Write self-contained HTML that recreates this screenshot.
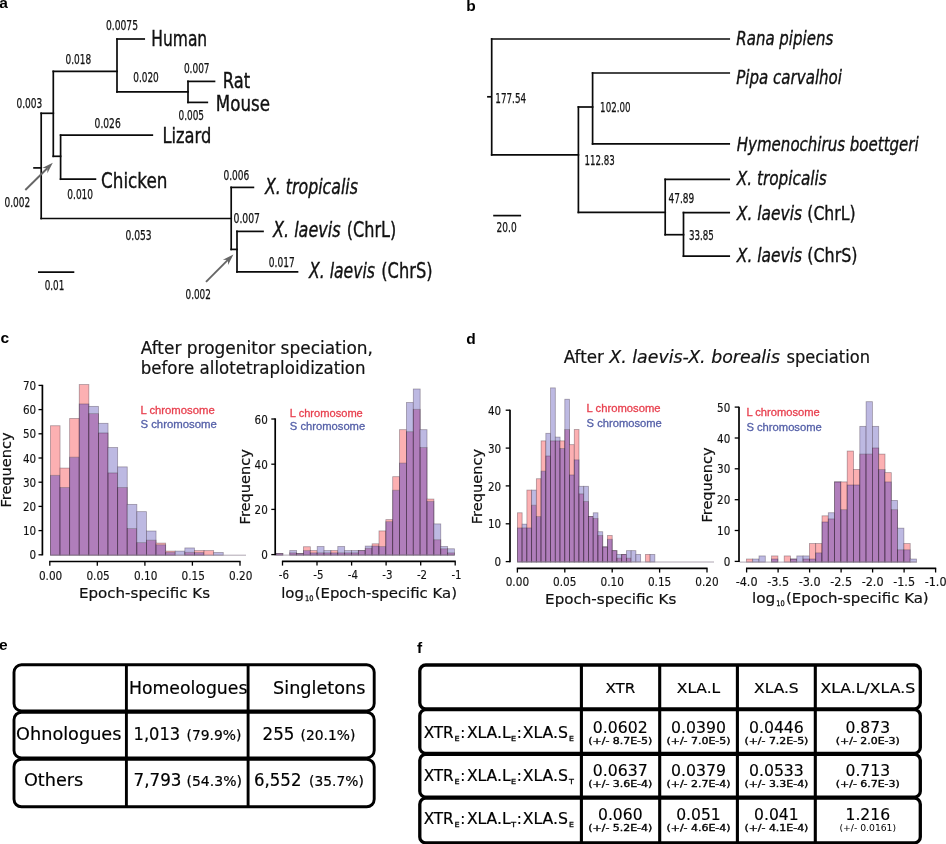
<!DOCTYPE html>
<html><head><meta charset="utf-8"><title>Figure</title>
<style>
html,body{margin:0;padding:0;background:#fff;}
body{width:946px;height:844px;overflow:hidden;}
svg{display:block;}
text{white-space:pre;}
</style></head><body>
<svg width="946" height="844" viewBox="0 0 946 844">
<rect width="946" height="844" fill="#fff"/>
<text x="-0.8" y="8.0" font-size="15.5" font-family='"Liberation Sans","DejaVu Sans",sans-serif' fill="#000" font-weight="bold">a</text>
<text x="466.3" y="11.4" font-size="15.5" font-family='"Liberation Sans","DejaVu Sans",sans-serif' fill="#000" font-weight="bold">b</text>
<text x="0.6" y="343.0" font-size="15.5" font-family='"Liberation Sans","DejaVu Sans",sans-serif' fill="#000" font-weight="bold">c</text>
<text x="466.3" y="344.0" font-size="15.5" font-family='"Liberation Sans","DejaVu Sans",sans-serif' fill="#000" font-weight="bold">d</text>
<text x="-1.0" y="649.6" font-size="15.5" font-family='"Liberation Sans","DejaVu Sans",sans-serif' fill="#000" font-weight="bold">e</text>
<text x="417.0" y="652.5" font-size="15.5" font-family='"Liberation Sans","DejaVu Sans",sans-serif' fill="#000" font-weight="bold">f</text>
<g id="treeA" transform="translate(0,0.4)">
<line x1="41.2" y1="112.9" x2="41.2" y2="218.1" stroke="#0a0a0a" stroke-width="1.7" stroke-linecap="square"/>
<line x1="33.2" y1="167.5" x2="41.2" y2="167.5" stroke="#0a0a0a" stroke-width="1.7" stroke-linecap="butt"/>
<line x1="41.2" y1="112.9" x2="53.3" y2="112.9" stroke="#0a0a0a" stroke-width="1.7" stroke-linecap="square"/>
<line x1="53.3" y1="71.0" x2="53.3" y2="155.9" stroke="#0a0a0a" stroke-width="1.7" stroke-linecap="square"/>
<line x1="53.3" y1="71.0" x2="117.0" y2="71.0" stroke="#0a0a0a" stroke-width="1.7" stroke-linecap="square"/>
<line x1="117.0" y1="38.6" x2="117.0" y2="91.4" stroke="#0a0a0a" stroke-width="1.7" stroke-linecap="square"/>
<line x1="117.0" y1="38.6" x2="144.2" y2="38.6" stroke="#0a0a0a" stroke-width="1.7" stroke-linecap="square"/>
<line x1="117.0" y1="91.4" x2="188.0" y2="91.4" stroke="#0a0a0a" stroke-width="1.7" stroke-linecap="square"/>
<line x1="188.0" y1="81.0" x2="188.0" y2="102.0" stroke="#0a0a0a" stroke-width="1.7" stroke-linecap="square"/>
<line x1="188.0" y1="81.0" x2="214.5" y2="81.0" stroke="#0a0a0a" stroke-width="1.7" stroke-linecap="square"/>
<line x1="188.0" y1="102.0" x2="207.3" y2="102.0" stroke="#0a0a0a" stroke-width="1.7" stroke-linecap="square"/>
<line x1="53.3" y1="155.9" x2="60.6" y2="155.9" stroke="#0a0a0a" stroke-width="1.7" stroke-linecap="square"/>
<line x1="60.6" y1="134.8" x2="60.6" y2="178.8" stroke="#0a0a0a" stroke-width="1.7" stroke-linecap="square"/>
<line x1="60.6" y1="134.8" x2="152.3" y2="134.8" stroke="#0a0a0a" stroke-width="1.7" stroke-linecap="square"/>
<line x1="60.6" y1="178.8" x2="95.4" y2="178.8" stroke="#0a0a0a" stroke-width="1.7" stroke-linecap="square"/>
<line x1="41.2" y1="218.1" x2="231.2" y2="218.1" stroke="#0a0a0a" stroke-width="1.7" stroke-linecap="square"/>
<line x1="231.2" y1="187.0" x2="231.2" y2="249.0" stroke="#0a0a0a" stroke-width="1.7" stroke-linecap="square"/>
<line x1="231.2" y1="187.0" x2="253.4" y2="187.0" stroke="#0a0a0a" stroke-width="1.7" stroke-linecap="square"/>
<line x1="231.2" y1="249.0" x2="237.0" y2="249.0" stroke="#0a0a0a" stroke-width="1.7" stroke-linecap="square"/>
<line x1="237.0" y1="231.0" x2="237.0" y2="271.5" stroke="#0a0a0a" stroke-width="1.7" stroke-linecap="square"/>
<line x1="237.0" y1="231.0" x2="263.0" y2="231.0" stroke="#0a0a0a" stroke-width="1.7" stroke-linecap="square"/>
<line x1="237.0" y1="271.5" x2="297.5" y2="271.5" stroke="#0a0a0a" stroke-width="1.7" stroke-linecap="square"/>
<line x1="38.0" y1="271.8" x2="74.3" y2="271.8" stroke="#0a0a0a" stroke-width="1.7" stroke-linecap="butt"/>
<text x="106.0" y="29.9" font-size="13.2" font-family='"DejaVu Sans Condensed","DejaVu Sans","Liberation Sans",sans-serif' fill="#111" textLength="32.0" lengthAdjust="spacingAndGlyphs" stroke="#111" stroke-width="0.25">0.0075</text>
<text x="65.5" y="63.4" font-size="13.2" font-family='"DejaVu Sans Condensed","DejaVu Sans","Liberation Sans",sans-serif' fill="#111" textLength="25.6" lengthAdjust="spacingAndGlyphs" stroke="#111" stroke-width="0.25">0.018</text>
<text x="133.2" y="81.7" font-size="13.2" font-family='"DejaVu Sans Condensed","DejaVu Sans","Liberation Sans",sans-serif' fill="#111" textLength="25.6" lengthAdjust="spacingAndGlyphs" stroke="#111" stroke-width="0.25">0.020</text>
<text x="183.9" y="73.0" font-size="13.2" font-family='"DejaVu Sans Condensed","DejaVu Sans","Liberation Sans",sans-serif' fill="#111" textLength="25.7" lengthAdjust="spacingAndGlyphs" stroke="#111" stroke-width="0.25">0.007</text>
<text x="178.5" y="119.7" font-size="13.2" font-family='"DejaVu Sans Condensed","DejaVu Sans","Liberation Sans",sans-serif' fill="#111" textLength="25.5" lengthAdjust="spacingAndGlyphs" stroke="#111" stroke-width="0.25">0.005</text>
<text x="16.5" y="107.9" font-size="13.2" font-family='"DejaVu Sans Condensed","DejaVu Sans","Liberation Sans",sans-serif' fill="#111" textLength="25.8" lengthAdjust="spacingAndGlyphs" stroke="#111" stroke-width="0.25">0.003</text>
<text x="94.6" y="127.7" font-size="13.2" font-family='"DejaVu Sans Condensed","DejaVu Sans","Liberation Sans",sans-serif' fill="#111" textLength="26.1" lengthAdjust="spacingAndGlyphs" stroke="#111" stroke-width="0.25">0.026</text>
<text x="67.3" y="199.1" font-size="13.2" font-family='"DejaVu Sans Condensed","DejaVu Sans","Liberation Sans",sans-serif' fill="#111" textLength="25.8" lengthAdjust="spacingAndGlyphs" stroke="#111" stroke-width="0.25">0.010</text>
<text x="4.5" y="206.7" font-size="13.2" font-family='"DejaVu Sans Condensed","DejaVu Sans","Liberation Sans",sans-serif' fill="#111" textLength="25.7" lengthAdjust="spacingAndGlyphs" stroke="#111" stroke-width="0.25">0.002</text>
<text x="125.5" y="239.3" font-size="13.2" font-family='"DejaVu Sans Condensed","DejaVu Sans","Liberation Sans",sans-serif' fill="#111" textLength="26.2" lengthAdjust="spacingAndGlyphs" stroke="#111" stroke-width="0.25">0.053</text>
<text x="44.7" y="290.0" font-size="13.2" font-family='"DejaVu Sans Condensed","DejaVu Sans","Liberation Sans",sans-serif' fill="#111" textLength="19.6" lengthAdjust="spacingAndGlyphs" stroke="#111" stroke-width="0.25">0.01</text>
<text x="185.5" y="298.4" font-size="13.2" font-family='"DejaVu Sans Condensed","DejaVu Sans","Liberation Sans",sans-serif' fill="#111" textLength="25.4" lengthAdjust="spacingAndGlyphs" stroke="#111" stroke-width="0.25">0.002</text>
<text x="223.5" y="179.7" font-size="13.2" font-family='"DejaVu Sans Condensed","DejaVu Sans","Liberation Sans",sans-serif' fill="#111" textLength="25.8" lengthAdjust="spacingAndGlyphs" stroke="#111" stroke-width="0.25">0.006</text>
<text x="233.5" y="223.0" font-size="13.2" font-family='"DejaVu Sans Condensed","DejaVu Sans","Liberation Sans",sans-serif' fill="#111" textLength="26.5" lengthAdjust="spacingAndGlyphs" stroke="#111" stroke-width="0.25">0.007</text>
<text x="268.8" y="266.3" font-size="13.2" font-family='"DejaVu Sans Condensed","DejaVu Sans","Liberation Sans",sans-serif' fill="#111" textLength="25.9" lengthAdjust="spacingAndGlyphs" stroke="#111" stroke-width="0.25">0.017</text>
<text x="151.3" y="45.5" font-size="20.4" font-family='"DejaVu Sans Condensed","DejaVu Sans","Liberation Sans",sans-serif' fill="#111" textLength="55.9" lengthAdjust="spacingAndGlyphs" stroke="#111" stroke-width="0.35">Human</text>
<text x="222.8" y="87.5" font-size="20.4" font-family='"DejaVu Sans Condensed","DejaVu Sans","Liberation Sans",sans-serif' fill="#111" textLength="27.2" lengthAdjust="spacingAndGlyphs" stroke="#111" stroke-width="0.35">Rat</text>
<text x="215.8" y="110.4" font-size="20.4" font-family='"DejaVu Sans Condensed","DejaVu Sans","Liberation Sans",sans-serif' fill="#111" textLength="54.2" lengthAdjust="spacingAndGlyphs" stroke="#111" stroke-width="0.35">Mouse</text>
<text x="162.4" y="142.6" font-size="20.4" font-family='"DejaVu Sans Condensed","DejaVu Sans","Liberation Sans",sans-serif' fill="#111" textLength="48.9" lengthAdjust="spacingAndGlyphs" stroke="#111" stroke-width="0.35">Lizard</text>
<text x="101.0" y="187.4" font-size="20.4" font-family='"DejaVu Sans Condensed","DejaVu Sans","Liberation Sans",sans-serif' fill="#111" textLength="66.4" lengthAdjust="spacingAndGlyphs" stroke="#111" stroke-width="0.35">Chicken</text>
<text x="265.0" y="193.9" font-size="20.4" font-family='"DejaVu Sans Condensed","DejaVu Sans","Liberation Sans",sans-serif' fill="#111" textLength="93.0" lengthAdjust="spacingAndGlyphs" font-style="italic" stroke="#111" stroke-width="0.35">X. tropicalis</text>
<text x="273.0" y="236.6" font-size="20.4" font-family='"DejaVu Sans Condensed","DejaVu Sans","Liberation Sans",sans-serif' fill="#111" textLength="67.5" lengthAdjust="spacingAndGlyphs" font-style="italic" stroke="#111" stroke-width="0.35">X. laevis</text>
<text x="346.8" y="236.6" font-size="20.4" font-family='"DejaVu Sans Condensed","DejaVu Sans","Liberation Sans",sans-serif' fill="#111" textLength="49.5" lengthAdjust="spacingAndGlyphs" stroke="#111" stroke-width="0.35">(ChrL)</text>
<text x="309.0" y="277.6" font-size="20.4" font-family='"DejaVu Sans Condensed","DejaVu Sans","Liberation Sans",sans-serif' fill="#111" textLength="66.0" lengthAdjust="spacingAndGlyphs" font-style="italic" stroke="#111" stroke-width="0.35">X. laevis</text>
<text x="381.3" y="277.6" font-size="20.4" font-family='"DejaVu Sans Condensed","DejaVu Sans","Liberation Sans",sans-serif' fill="#111" textLength="51.2" lengthAdjust="spacingAndGlyphs" stroke="#111" stroke-width="0.35">(ChrS)</text>
<line x1="25.3" y1="189.6" x2="47.3" y2="167.9" stroke="#666" stroke-width="1.9"/>
<polygon points="52.8,162.4 47.4,172.9 47.3,167.9 42.2,167.6" fill="#666"/>
<line x1="206.0" y1="281.4" x2="227.9" y2="259.5" stroke="#666" stroke-width="1.9"/>
<polygon points="233.4,254.0 228.1,264.5 227.9,259.5 222.9,259.3" fill="#666"/>
</g>
<g id="treeB">
<g transform="translate(0,0.4)">
<line x1="491.7" y1="38.6" x2="491.7" y2="154.5" stroke="#0a0a0a" stroke-width="1.7" stroke-linecap="square"/>
<line x1="487.1" y1="96.4" x2="491.7" y2="96.4" stroke="#0a0a0a" stroke-width="1.7" stroke-linecap="butt"/>
<line x1="491.7" y1="38.6" x2="729.2" y2="38.6" stroke="#0a0a0a" stroke-width="1.7" stroke-linecap="square"/>
<line x1="491.7" y1="154.5" x2="578.4" y2="154.5" stroke="#0a0a0a" stroke-width="1.7" stroke-linecap="square"/>
<line x1="578.4" y1="106.6" x2="578.4" y2="212.0" stroke="#0a0a0a" stroke-width="1.7" stroke-linecap="square"/>
<line x1="578.4" y1="106.6" x2="592.6" y2="106.6" stroke="#0a0a0a" stroke-width="1.7" stroke-linecap="square"/>
<line x1="592.6" y1="72.6" x2="592.6" y2="143.5" stroke="#0a0a0a" stroke-width="1.7" stroke-linecap="square"/>
<line x1="592.6" y1="72.6" x2="729.2" y2="72.6" stroke="#0a0a0a" stroke-width="1.7" stroke-linecap="square"/>
<line x1="592.6" y1="143.5" x2="729.2" y2="143.5" stroke="#0a0a0a" stroke-width="1.7" stroke-linecap="square"/>
<line x1="578.4" y1="212.0" x2="665.2" y2="212.0" stroke="#0a0a0a" stroke-width="1.7" stroke-linecap="square"/>
<line x1="665.2" y1="179.0" x2="665.2" y2="234.3" stroke="#0a0a0a" stroke-width="1.7" stroke-linecap="square"/>
<line x1="665.2" y1="179.0" x2="729.2" y2="179.0" stroke="#0a0a0a" stroke-width="1.7" stroke-linecap="square"/>
<line x1="665.2" y1="234.3" x2="683.5" y2="234.3" stroke="#0a0a0a" stroke-width="1.7" stroke-linecap="square"/>
<line x1="683.5" y1="212.2" x2="683.5" y2="255.8" stroke="#0a0a0a" stroke-width="1.7" stroke-linecap="square"/>
<line x1="683.5" y1="212.2" x2="729.2" y2="212.2" stroke="#0a0a0a" stroke-width="1.7" stroke-linecap="square"/>
<line x1="683.5" y1="255.8" x2="729.2" y2="255.8" stroke="#0a0a0a" stroke-width="1.7" stroke-linecap="square"/>
<line x1="493.2" y1="215.2" x2="521.1" y2="215.2" stroke="#0a0a0a" stroke-width="1.7" stroke-linecap="butt"/>
</g>
<text x="495.3" y="103.2" font-size="14.3" font-family='"DejaVu Sans Condensed","DejaVu Sans","Liberation Sans",sans-serif' fill="#111" textLength="30.8" lengthAdjust="spacingAndGlyphs" stroke="#111" stroke-width="0.25">177.54</text>
<text x="600.1" y="112.0" font-size="14.3" font-family='"DejaVu Sans Condensed","DejaVu Sans","Liberation Sans",sans-serif' fill="#111" textLength="30.5" lengthAdjust="spacingAndGlyphs" stroke="#111" stroke-width="0.25">102.00</text>
<text x="584.4" y="164.9" font-size="14.3" font-family='"DejaVu Sans Condensed","DejaVu Sans","Liberation Sans",sans-serif' fill="#111" textLength="30.3" lengthAdjust="spacingAndGlyphs" stroke="#111" stroke-width="0.25">112.83</text>
<text x="668.6" y="203.3" font-size="14.3" font-family='"DejaVu Sans Condensed","DejaVu Sans","Liberation Sans",sans-serif' fill="#111" textLength="25.7" lengthAdjust="spacingAndGlyphs" stroke="#111" stroke-width="0.25">47.89</text>
<text x="688.9" y="239.5" font-size="14.3" font-family='"DejaVu Sans Condensed","DejaVu Sans","Liberation Sans",sans-serif' fill="#111" textLength="24.9" lengthAdjust="spacingAndGlyphs" stroke="#111" stroke-width="0.25">33.85</text>
<text x="496.6" y="232.4" font-size="14.3" font-family='"DejaVu Sans Condensed","DejaVu Sans","Liberation Sans",sans-serif' fill="#111" textLength="20.1" lengthAdjust="spacingAndGlyphs" stroke="#111" stroke-width="0.25">20.0</text>
<text x="736.3" y="45.0" font-size="19.5" font-family='"DejaVu Sans Condensed","DejaVu Sans","Liberation Sans",sans-serif' fill="#111" textLength="96.9" lengthAdjust="spacingAndGlyphs" font-style="italic" stroke="#111" stroke-width="0.35">Rana pipiens</text>
<text x="736.3" y="83.6" font-size="19.5" font-family='"DejaVu Sans Condensed","DejaVu Sans","Liberation Sans",sans-serif' fill="#111" textLength="105.7" lengthAdjust="spacingAndGlyphs" font-style="italic" stroke="#111" stroke-width="0.35">Pipa carvalhoi</text>
<text x="736.8" y="150.8" font-size="19.5" font-family='"DejaVu Sans Condensed","DejaVu Sans","Liberation Sans",sans-serif' fill="#111" textLength="181.9" lengthAdjust="spacingAndGlyphs" font-style="italic" stroke="#111" stroke-width="0.35">Hymenochirus boettgeri</text>
<text x="736.8" y="185.0" font-size="19.5" font-family='"DejaVu Sans Condensed","DejaVu Sans","Liberation Sans",sans-serif' fill="#111" textLength="90.0" lengthAdjust="spacingAndGlyphs" font-style="italic" stroke="#111" stroke-width="0.35">X. tropicalis</text>
<text x="736.8" y="220.3" font-size="19.5" font-family='"DejaVu Sans Condensed","DejaVu Sans","Liberation Sans",sans-serif' fill="#111" textLength="65.2" lengthAdjust="spacingAndGlyphs" font-style="italic" stroke="#111" stroke-width="0.35">X. laevis</text>
<text x="807.3" y="220.3" font-size="19.5" font-family='"DejaVu Sans Condensed","DejaVu Sans","Liberation Sans",sans-serif' fill="#111" textLength="48.2" lengthAdjust="spacingAndGlyphs" stroke="#111" stroke-width="0.35">(ChrL)</text>
<text x="736.8" y="262.1" font-size="19.5" font-family='"DejaVu Sans Condensed","DejaVu Sans","Liberation Sans",sans-serif' fill="#111" textLength="65.2" lengthAdjust="spacingAndGlyphs" font-style="italic" stroke="#111" stroke-width="0.35">X. laevis</text>
<text x="807.3" y="262.1" font-size="19.5" font-family='"DejaVu Sans Condensed","DejaVu Sans","Liberation Sans",sans-serif' fill="#111" textLength="50.2" lengthAdjust="spacingAndGlyphs" stroke="#111" stroke-width="0.35">(ChrS)</text>
</g>
<g>
<rect x="50.45" y="475.34" width="9.60" height="79.86" fill="#b07ebb"/>
<rect x="50.45" y="425.73" width="9.60" height="49.61" fill="#fcb0b2"/>
<rect x="50.45" y="425.73" width="9.60" height="129.47" fill="none" stroke="#201020" stroke-opacity="0.36" stroke-width="0.8"/>
<rect x="50.45" y="475.34" width="9.60" height="79.86" fill="none" stroke="#201020" stroke-opacity="0.36" stroke-width="0.8"/>
<rect x="60.05" y="487.44" width="9.60" height="67.76" fill="#b07ebb"/>
<rect x="60.05" y="468.08" width="9.60" height="19.36" fill="#fcb0b2"/>
<rect x="60.05" y="468.08" width="9.60" height="87.12" fill="none" stroke="#201020" stroke-opacity="0.36" stroke-width="0.8"/>
<rect x="60.05" y="487.44" width="9.60" height="67.76" fill="none" stroke="#201020" stroke-opacity="0.36" stroke-width="0.8"/>
<rect x="69.65" y="457.19" width="9.60" height="98.01" fill="#b07ebb"/>
<rect x="69.65" y="418.47" width="9.60" height="38.72" fill="#fcb0b2"/>
<rect x="69.65" y="418.47" width="9.60" height="136.73" fill="none" stroke="#201020" stroke-opacity="0.36" stroke-width="0.8"/>
<rect x="69.65" y="457.19" width="9.60" height="98.01" fill="none" stroke="#201020" stroke-opacity="0.36" stroke-width="0.8"/>
<rect x="79.25" y="403.95" width="9.60" height="151.25" fill="#b07ebb"/>
<rect x="79.25" y="384.59" width="9.60" height="19.36" fill="#fcb0b2"/>
<rect x="79.25" y="384.59" width="9.60" height="170.61" fill="none" stroke="#201020" stroke-opacity="0.36" stroke-width="0.8"/>
<rect x="79.25" y="403.95" width="9.60" height="151.25" fill="none" stroke="#201020" stroke-opacity="0.36" stroke-width="0.8"/>
<rect x="88.85" y="413.63" width="9.60" height="141.57" fill="#b07ebb"/>
<rect x="88.85" y="406.37" width="9.60" height="7.26" fill="#bdb9e2"/>
<rect x="88.85" y="413.63" width="9.60" height="141.57" fill="none" stroke="#201020" stroke-opacity="0.36" stroke-width="0.8"/>
<rect x="88.85" y="406.37" width="9.60" height="148.83" fill="none" stroke="#201020" stroke-opacity="0.36" stroke-width="0.8"/>
<rect x="98.45" y="432.99" width="9.60" height="122.21" fill="#b07ebb"/>
<rect x="98.45" y="423.31" width="9.60" height="9.68" fill="#bdb9e2"/>
<rect x="98.45" y="432.99" width="9.60" height="122.21" fill="none" stroke="#201020" stroke-opacity="0.36" stroke-width="0.8"/>
<rect x="98.45" y="423.31" width="9.60" height="131.89" fill="none" stroke="#201020" stroke-opacity="0.36" stroke-width="0.8"/>
<rect x="108.05" y="472.92" width="9.60" height="82.28" fill="#b07ebb"/>
<rect x="108.05" y="447.51" width="9.60" height="25.41" fill="#bdb9e2"/>
<rect x="108.05" y="472.92" width="9.60" height="82.28" fill="none" stroke="#201020" stroke-opacity="0.36" stroke-width="0.8"/>
<rect x="108.05" y="447.51" width="9.60" height="107.69" fill="none" stroke="#201020" stroke-opacity="0.36" stroke-width="0.8"/>
<rect x="117.65" y="487.44" width="9.60" height="67.76" fill="#b07ebb"/>
<rect x="117.65" y="466.87" width="9.60" height="20.57" fill="#bdb9e2"/>
<rect x="117.65" y="487.44" width="9.60" height="67.76" fill="none" stroke="#201020" stroke-opacity="0.36" stroke-width="0.8"/>
<rect x="117.65" y="466.87" width="9.60" height="88.33" fill="none" stroke="#201020" stroke-opacity="0.36" stroke-width="0.8"/>
<rect x="127.25" y="528.58" width="9.60" height="26.62" fill="#b07ebb"/>
<rect x="127.25" y="504.38" width="9.60" height="24.20" fill="#bdb9e2"/>
<rect x="127.25" y="528.58" width="9.60" height="26.62" fill="none" stroke="#201020" stroke-opacity="0.36" stroke-width="0.8"/>
<rect x="127.25" y="504.38" width="9.60" height="50.82" fill="none" stroke="#201020" stroke-opacity="0.36" stroke-width="0.8"/>
<rect x="136.85" y="542.62" width="9.60" height="12.58" fill="#b07ebb"/>
<rect x="136.85" y="511.64" width="9.60" height="30.98" fill="#bdb9e2"/>
<rect x="136.85" y="542.62" width="9.60" height="12.58" fill="none" stroke="#201020" stroke-opacity="0.36" stroke-width="0.8"/>
<rect x="136.85" y="511.64" width="9.60" height="43.56" fill="none" stroke="#201020" stroke-opacity="0.36" stroke-width="0.8"/>
<rect x="146.45" y="540.20" width="9.60" height="15.00" fill="#b07ebb"/>
<rect x="146.45" y="531.00" width="9.60" height="9.20" fill="#bdb9e2"/>
<rect x="146.45" y="540.20" width="9.60" height="15.00" fill="none" stroke="#201020" stroke-opacity="0.36" stroke-width="0.8"/>
<rect x="146.45" y="531.00" width="9.60" height="24.20" fill="none" stroke="#201020" stroke-opacity="0.36" stroke-width="0.8"/>
<rect x="156.05" y="544.79" width="9.60" height="10.41" fill="#b07ebb"/>
<rect x="156.05" y="543.10" width="9.60" height="1.69" fill="#fcb0b2"/>
<rect x="156.05" y="543.10" width="9.60" height="12.10" fill="none" stroke="#201020" stroke-opacity="0.36" stroke-width="0.8"/>
<rect x="156.05" y="544.79" width="9.60" height="10.41" fill="none" stroke="#201020" stroke-opacity="0.36" stroke-width="0.8"/>
<rect x="165.65" y="552.30" width="9.60" height="2.90" fill="#b07ebb"/>
<rect x="165.65" y="551.09" width="9.60" height="1.21" fill="#fcb0b2"/>
<rect x="165.65" y="551.09" width="9.60" height="4.11" fill="none" stroke="#201020" stroke-opacity="0.36" stroke-width="0.8"/>
<rect x="165.65" y="552.30" width="9.60" height="2.90" fill="none" stroke="#201020" stroke-opacity="0.36" stroke-width="0.8"/>
<rect x="175.25" y="551.09" width="9.60" height="4.11" fill="#bdb9e2"/>
<rect x="175.25" y="551.09" width="9.60" height="4.11" fill="none" stroke="#201020" stroke-opacity="0.36" stroke-width="0.8"/>
<rect x="184.85" y="552.30" width="9.60" height="2.90" fill="#b07ebb"/>
<rect x="184.85" y="547.94" width="9.60" height="4.36" fill="#bdb9e2"/>
<rect x="184.85" y="552.30" width="9.60" height="2.90" fill="none" stroke="#201020" stroke-opacity="0.36" stroke-width="0.8"/>
<rect x="184.85" y="547.94" width="9.60" height="7.26" fill="none" stroke="#201020" stroke-opacity="0.36" stroke-width="0.8"/>
<rect x="194.45" y="552.54" width="9.60" height="2.66" fill="#b07ebb"/>
<rect x="194.45" y="550.60" width="9.60" height="1.94" fill="#fcb0b2"/>
<rect x="194.45" y="550.60" width="9.60" height="4.60" fill="none" stroke="#201020" stroke-opacity="0.36" stroke-width="0.8"/>
<rect x="194.45" y="552.54" width="9.60" height="2.66" fill="none" stroke="#201020" stroke-opacity="0.36" stroke-width="0.8"/>
<rect x="204.05" y="550.60" width="9.60" height="4.60" fill="#fcb0b2"/>
<rect x="204.05" y="550.60" width="9.60" height="4.60" fill="none" stroke="#201020" stroke-opacity="0.36" stroke-width="0.8"/>
<rect x="213.65" y="552.54" width="9.60" height="2.66" fill="#bdb9e2"/>
<rect x="213.65" y="552.54" width="9.60" height="2.66" fill="none" stroke="#201020" stroke-opacity="0.36" stroke-width="0.8"/>
<line x1="50.5" y1="555.2" x2="246.0" y2="555.2" stroke="#9a90a0" stroke-width="0.8"/>
</g>
<g>
<rect x="276.00" y="553.52" width="6.87" height="1.58" fill="#b07ebb"/>
<rect x="276.00" y="553.52" width="6.87" height="1.58" fill="none" stroke="#201020" stroke-opacity="0.36" stroke-width="0.8"/>
<rect x="276.00" y="553.52" width="6.87" height="1.58" fill="none" stroke="#201020" stroke-opacity="0.36" stroke-width="0.8"/>
<rect x="289.73" y="552.84" width="6.87" height="2.26" fill="#b07ebb"/>
<rect x="289.73" y="550.58" width="6.87" height="2.26" fill="#bdb9e2"/>
<rect x="289.73" y="552.84" width="6.87" height="2.26" fill="none" stroke="#201020" stroke-opacity="0.36" stroke-width="0.8"/>
<rect x="289.73" y="550.58" width="6.87" height="4.52" fill="none" stroke="#201020" stroke-opacity="0.36" stroke-width="0.8"/>
<rect x="296.60" y="553.52" width="6.87" height="1.58" fill="#b07ebb"/>
<rect x="296.60" y="553.52" width="6.87" height="1.58" fill="none" stroke="#201020" stroke-opacity="0.36" stroke-width="0.8"/>
<rect x="296.60" y="553.52" width="6.87" height="1.58" fill="none" stroke="#201020" stroke-opacity="0.36" stroke-width="0.8"/>
<rect x="303.46" y="550.58" width="6.87" height="4.52" fill="#b07ebb"/>
<rect x="303.46" y="546.74" width="6.87" height="3.84" fill="#fcb0b2"/>
<rect x="303.46" y="546.74" width="6.87" height="8.36" fill="none" stroke="#201020" stroke-opacity="0.36" stroke-width="0.8"/>
<rect x="303.46" y="550.58" width="6.87" height="4.52" fill="none" stroke="#201020" stroke-opacity="0.36" stroke-width="0.8"/>
<rect x="310.32" y="552.84" width="6.87" height="2.26" fill="#b07ebb"/>
<rect x="310.32" y="550.58" width="6.87" height="2.26" fill="#fcb0b2"/>
<rect x="310.32" y="550.58" width="6.87" height="4.52" fill="none" stroke="#201020" stroke-opacity="0.36" stroke-width="0.8"/>
<rect x="310.32" y="552.84" width="6.87" height="2.26" fill="none" stroke="#201020" stroke-opacity="0.36" stroke-width="0.8"/>
<rect x="317.19" y="552.84" width="6.87" height="2.26" fill="#b07ebb"/>
<rect x="317.19" y="546.51" width="6.87" height="6.33" fill="#bdb9e2"/>
<rect x="317.19" y="552.84" width="6.87" height="2.26" fill="none" stroke="#201020" stroke-opacity="0.36" stroke-width="0.8"/>
<rect x="317.19" y="546.51" width="6.87" height="8.59" fill="none" stroke="#201020" stroke-opacity="0.36" stroke-width="0.8"/>
<rect x="324.06" y="552.84" width="6.87" height="2.26" fill="#b07ebb"/>
<rect x="324.06" y="550.58" width="6.87" height="2.26" fill="#bdb9e2"/>
<rect x="324.06" y="552.84" width="6.87" height="2.26" fill="none" stroke="#201020" stroke-opacity="0.36" stroke-width="0.8"/>
<rect x="324.06" y="550.58" width="6.87" height="4.52" fill="none" stroke="#201020" stroke-opacity="0.36" stroke-width="0.8"/>
<rect x="330.92" y="552.84" width="6.87" height="2.26" fill="#b07ebb"/>
<rect x="330.92" y="550.58" width="6.87" height="2.26" fill="#fcb0b2"/>
<rect x="330.92" y="550.58" width="6.87" height="4.52" fill="none" stroke="#201020" stroke-opacity="0.36" stroke-width="0.8"/>
<rect x="330.92" y="552.84" width="6.87" height="2.26" fill="none" stroke="#201020" stroke-opacity="0.36" stroke-width="0.8"/>
<rect x="337.79" y="552.84" width="6.87" height="2.26" fill="#b07ebb"/>
<rect x="337.79" y="546.51" width="6.87" height="6.33" fill="#bdb9e2"/>
<rect x="337.79" y="552.84" width="6.87" height="2.26" fill="none" stroke="#201020" stroke-opacity="0.36" stroke-width="0.8"/>
<rect x="337.79" y="546.51" width="6.87" height="8.59" fill="none" stroke="#201020" stroke-opacity="0.36" stroke-width="0.8"/>
<rect x="344.65" y="552.84" width="6.87" height="2.26" fill="#b07ebb"/>
<rect x="344.65" y="550.58" width="6.87" height="2.26" fill="#bdb9e2"/>
<rect x="344.65" y="552.84" width="6.87" height="2.26" fill="none" stroke="#201020" stroke-opacity="0.36" stroke-width="0.8"/>
<rect x="344.65" y="550.58" width="6.87" height="4.52" fill="none" stroke="#201020" stroke-opacity="0.36" stroke-width="0.8"/>
<rect x="351.51" y="552.84" width="6.87" height="2.26" fill="#b07ebb"/>
<rect x="351.51" y="550.58" width="6.87" height="2.26" fill="#bdb9e2"/>
<rect x="351.51" y="552.84" width="6.87" height="2.26" fill="none" stroke="#201020" stroke-opacity="0.36" stroke-width="0.8"/>
<rect x="351.51" y="550.58" width="6.87" height="4.52" fill="none" stroke="#201020" stroke-opacity="0.36" stroke-width="0.8"/>
<rect x="358.38" y="550.58" width="6.87" height="4.52" fill="#b07ebb"/>
<rect x="358.38" y="550.58" width="6.87" height="4.52" fill="none" stroke="#201020" stroke-opacity="0.36" stroke-width="0.8"/>
<rect x="358.38" y="550.58" width="6.87" height="4.52" fill="none" stroke="#201020" stroke-opacity="0.36" stroke-width="0.8"/>
<rect x="365.25" y="548.32" width="6.87" height="6.78" fill="#b07ebb"/>
<rect x="365.25" y="546.06" width="6.87" height="2.26" fill="#bdb9e2"/>
<rect x="365.25" y="548.32" width="6.87" height="6.78" fill="none" stroke="#201020" stroke-opacity="0.36" stroke-width="0.8"/>
<rect x="365.25" y="546.06" width="6.87" height="9.04" fill="none" stroke="#201020" stroke-opacity="0.36" stroke-width="0.8"/>
<rect x="372.11" y="546.06" width="6.87" height="9.04" fill="#b07ebb"/>
<rect x="372.11" y="543.80" width="6.87" height="2.26" fill="#fcb0b2"/>
<rect x="372.11" y="543.80" width="6.87" height="11.30" fill="none" stroke="#201020" stroke-opacity="0.36" stroke-width="0.8"/>
<rect x="372.11" y="546.06" width="6.87" height="9.04" fill="none" stroke="#201020" stroke-opacity="0.36" stroke-width="0.8"/>
<rect x="378.98" y="546.51" width="6.87" height="8.59" fill="#b07ebb"/>
<rect x="378.98" y="530.92" width="6.87" height="15.59" fill="#fcb0b2"/>
<rect x="378.98" y="530.92" width="6.87" height="24.18" fill="none" stroke="#201020" stroke-opacity="0.36" stroke-width="0.8"/>
<rect x="378.98" y="546.51" width="6.87" height="8.59" fill="none" stroke="#201020" stroke-opacity="0.36" stroke-width="0.8"/>
<rect x="385.84" y="521.65" width="6.87" height="33.45" fill="#b07ebb"/>
<rect x="385.84" y="519.62" width="6.87" height="2.03" fill="#fcb0b2"/>
<rect x="385.84" y="519.62" width="6.87" height="35.48" fill="none" stroke="#201020" stroke-opacity="0.36" stroke-width="0.8"/>
<rect x="385.84" y="521.65" width="6.87" height="33.45" fill="none" stroke="#201020" stroke-opacity="0.36" stroke-width="0.8"/>
<rect x="392.70" y="490.24" width="6.87" height="64.86" fill="#b07ebb"/>
<rect x="392.70" y="476.68" width="6.87" height="13.56" fill="#fcb0b2"/>
<rect x="392.70" y="476.68" width="6.87" height="78.42" fill="none" stroke="#201020" stroke-opacity="0.36" stroke-width="0.8"/>
<rect x="392.70" y="490.24" width="6.87" height="64.86" fill="none" stroke="#201020" stroke-opacity="0.36" stroke-width="0.8"/>
<rect x="399.57" y="463.12" width="6.87" height="91.98" fill="#b07ebb"/>
<rect x="399.57" y="429.67" width="6.87" height="33.45" fill="#fcb0b2"/>
<rect x="399.57" y="429.67" width="6.87" height="125.43" fill="none" stroke="#201020" stroke-opacity="0.36" stroke-width="0.8"/>
<rect x="399.57" y="463.12" width="6.87" height="91.98" fill="none" stroke="#201020" stroke-opacity="0.36" stroke-width="0.8"/>
<rect x="406.44" y="431.70" width="6.87" height="123.40" fill="#b07ebb"/>
<rect x="406.44" y="402.55" width="6.87" height="29.15" fill="#bdb9e2"/>
<rect x="406.44" y="431.70" width="6.87" height="123.40" fill="none" stroke="#201020" stroke-opacity="0.36" stroke-width="0.8"/>
<rect x="406.44" y="402.55" width="6.87" height="152.55" fill="none" stroke="#201020" stroke-opacity="0.36" stroke-width="0.8"/>
<rect x="413.30" y="409.33" width="6.87" height="145.77" fill="#b07ebb"/>
<rect x="413.30" y="388.99" width="6.87" height="20.34" fill="#bdb9e2"/>
<rect x="413.30" y="409.33" width="6.87" height="145.77" fill="none" stroke="#201020" stroke-opacity="0.36" stroke-width="0.8"/>
<rect x="413.30" y="388.99" width="6.87" height="166.11" fill="none" stroke="#201020" stroke-opacity="0.36" stroke-width="0.8"/>
<rect x="420.16" y="447.52" width="6.87" height="107.58" fill="#b07ebb"/>
<rect x="420.16" y="429.67" width="6.87" height="17.85" fill="#bdb9e2"/>
<rect x="420.16" y="447.52" width="6.87" height="107.58" fill="none" stroke="#201020" stroke-opacity="0.36" stroke-width="0.8"/>
<rect x="420.16" y="429.67" width="6.87" height="125.43" fill="none" stroke="#201020" stroke-opacity="0.36" stroke-width="0.8"/>
<rect x="427.03" y="501.31" width="6.87" height="53.79" fill="#b07ebb"/>
<rect x="427.03" y="499.05" width="6.87" height="2.26" fill="#fcb0b2"/>
<rect x="427.03" y="499.05" width="6.87" height="56.05" fill="none" stroke="#201020" stroke-opacity="0.36" stroke-width="0.8"/>
<rect x="427.03" y="501.31" width="6.87" height="53.79" fill="none" stroke="#201020" stroke-opacity="0.36" stroke-width="0.8"/>
<rect x="433.89" y="539.73" width="6.87" height="15.37" fill="#b07ebb"/>
<rect x="433.89" y="523.91" width="6.87" height="15.82" fill="#bdb9e2"/>
<rect x="433.89" y="539.73" width="6.87" height="15.37" fill="none" stroke="#201020" stroke-opacity="0.36" stroke-width="0.8"/>
<rect x="433.89" y="523.91" width="6.87" height="31.19" fill="none" stroke="#201020" stroke-opacity="0.36" stroke-width="0.8"/>
<rect x="440.76" y="548.77" width="6.87" height="6.33" fill="#b07ebb"/>
<rect x="440.76" y="546.51" width="6.87" height="2.26" fill="#bdb9e2"/>
<rect x="440.76" y="548.77" width="6.87" height="6.33" fill="none" stroke="#201020" stroke-opacity="0.36" stroke-width="0.8"/>
<rect x="440.76" y="546.51" width="6.87" height="8.59" fill="none" stroke="#201020" stroke-opacity="0.36" stroke-width="0.8"/>
<rect x="447.62" y="552.84" width="6.87" height="2.26" fill="#b07ebb"/>
<rect x="447.62" y="548.77" width="6.87" height="4.07" fill="#bdb9e2"/>
<rect x="447.62" y="552.84" width="6.87" height="2.26" fill="none" stroke="#201020" stroke-opacity="0.36" stroke-width="0.8"/>
<rect x="447.62" y="548.77" width="6.87" height="6.33" fill="none" stroke="#201020" stroke-opacity="0.36" stroke-width="0.8"/>
<line x1="275.5" y1="555.1" x2="454.5" y2="555.1" stroke="#9a90a0" stroke-width="0.8"/>
</g>
<g>
<rect x="517.40" y="527.93" width="4.74" height="34.06" fill="#b07ebb"/>
<rect x="517.40" y="512.79" width="4.74" height="15.14" fill="#fcb0b2"/>
<rect x="517.40" y="512.79" width="4.74" height="49.20" fill="none" stroke="#201020" stroke-opacity="0.36" stroke-width="0.8"/>
<rect x="517.40" y="527.93" width="4.74" height="34.06" fill="none" stroke="#201020" stroke-opacity="0.36" stroke-width="0.8"/>
<rect x="522.14" y="527.93" width="4.74" height="34.06" fill="#b07ebb"/>
<rect x="522.14" y="524.15" width="4.74" height="3.79" fill="#bdb9e2"/>
<rect x="522.14" y="527.93" width="4.74" height="34.06" fill="none" stroke="#201020" stroke-opacity="0.36" stroke-width="0.8"/>
<rect x="522.14" y="524.15" width="4.74" height="37.85" fill="none" stroke="#201020" stroke-opacity="0.36" stroke-width="0.8"/>
<rect x="526.88" y="527.93" width="4.74" height="34.06" fill="#b07ebb"/>
<rect x="526.88" y="490.08" width="4.74" height="37.85" fill="#fcb0b2"/>
<rect x="526.88" y="490.08" width="4.74" height="71.92" fill="none" stroke="#201020" stroke-opacity="0.36" stroke-width="0.8"/>
<rect x="526.88" y="527.93" width="4.74" height="34.06" fill="none" stroke="#201020" stroke-opacity="0.36" stroke-width="0.8"/>
<rect x="531.62" y="505.23" width="4.74" height="56.78" fill="#b07ebb"/>
<rect x="531.62" y="490.08" width="4.74" height="15.14" fill="#bdb9e2"/>
<rect x="531.62" y="505.23" width="4.74" height="56.78" fill="none" stroke="#201020" stroke-opacity="0.36" stroke-width="0.8"/>
<rect x="531.62" y="490.08" width="4.74" height="71.92" fill="none" stroke="#201020" stroke-opacity="0.36" stroke-width="0.8"/>
<rect x="536.36" y="516.58" width="4.74" height="45.42" fill="#b07ebb"/>
<rect x="536.36" y="478.73" width="4.74" height="37.85" fill="#fcb0b2"/>
<rect x="536.36" y="478.73" width="4.74" height="83.27" fill="none" stroke="#201020" stroke-opacity="0.36" stroke-width="0.8"/>
<rect x="536.36" y="516.58" width="4.74" height="45.42" fill="none" stroke="#201020" stroke-opacity="0.36" stroke-width="0.8"/>
<rect x="541.10" y="471.16" width="4.74" height="90.84" fill="#b07ebb"/>
<rect x="541.10" y="440.88" width="4.74" height="30.28" fill="#fcb0b2"/>
<rect x="541.10" y="440.88" width="4.74" height="121.12" fill="none" stroke="#201020" stroke-opacity="0.36" stroke-width="0.8"/>
<rect x="541.10" y="471.16" width="4.74" height="90.84" fill="none" stroke="#201020" stroke-opacity="0.36" stroke-width="0.8"/>
<rect x="545.84" y="456.02" width="4.74" height="105.98" fill="#b07ebb"/>
<rect x="545.84" y="433.31" width="4.74" height="22.71" fill="#bdb9e2"/>
<rect x="545.84" y="456.02" width="4.74" height="105.98" fill="none" stroke="#201020" stroke-opacity="0.36" stroke-width="0.8"/>
<rect x="545.84" y="433.31" width="4.74" height="128.69" fill="none" stroke="#201020" stroke-opacity="0.36" stroke-width="0.8"/>
<rect x="550.58" y="440.88" width="4.74" height="121.12" fill="#b07ebb"/>
<rect x="550.58" y="387.89" width="4.74" height="52.99" fill="#bdb9e2"/>
<rect x="550.58" y="440.88" width="4.74" height="121.12" fill="none" stroke="#201020" stroke-opacity="0.36" stroke-width="0.8"/>
<rect x="550.58" y="387.89" width="4.74" height="174.11" fill="none" stroke="#201020" stroke-opacity="0.36" stroke-width="0.8"/>
<rect x="555.32" y="440.88" width="4.74" height="121.12" fill="#b07ebb"/>
<rect x="555.32" y="437.10" width="4.74" height="3.79" fill="#bdb9e2"/>
<rect x="555.32" y="440.88" width="4.74" height="121.12" fill="none" stroke="#201020" stroke-opacity="0.36" stroke-width="0.8"/>
<rect x="555.32" y="437.10" width="4.74" height="124.91" fill="none" stroke="#201020" stroke-opacity="0.36" stroke-width="0.8"/>
<rect x="560.06" y="448.45" width="4.74" height="113.55" fill="#b07ebb"/>
<rect x="560.06" y="440.88" width="4.74" height="7.57" fill="#fcb0b2"/>
<rect x="560.06" y="440.88" width="4.74" height="121.12" fill="none" stroke="#201020" stroke-opacity="0.36" stroke-width="0.8"/>
<rect x="560.06" y="448.45" width="4.74" height="113.55" fill="none" stroke="#201020" stroke-opacity="0.36" stroke-width="0.8"/>
<rect x="564.80" y="429.52" width="4.74" height="132.47" fill="#b07ebb"/>
<rect x="564.80" y="399.25" width="4.74" height="30.28" fill="#bdb9e2"/>
<rect x="564.80" y="429.52" width="4.74" height="132.47" fill="none" stroke="#201020" stroke-opacity="0.36" stroke-width="0.8"/>
<rect x="564.80" y="399.25" width="4.74" height="162.75" fill="none" stroke="#201020" stroke-opacity="0.36" stroke-width="0.8"/>
<rect x="569.54" y="474.94" width="4.74" height="87.06" fill="#b07ebb"/>
<rect x="569.54" y="444.66" width="4.74" height="30.28" fill="#fcb0b2"/>
<rect x="569.54" y="444.66" width="4.74" height="117.34" fill="none" stroke="#201020" stroke-opacity="0.36" stroke-width="0.8"/>
<rect x="569.54" y="474.94" width="4.74" height="87.06" fill="none" stroke="#201020" stroke-opacity="0.36" stroke-width="0.8"/>
<rect x="574.28" y="459.81" width="4.74" height="102.20" fill="#b07ebb"/>
<rect x="574.28" y="429.52" width="4.74" height="30.28" fill="#fcb0b2"/>
<rect x="574.28" y="429.52" width="4.74" height="132.47" fill="none" stroke="#201020" stroke-opacity="0.36" stroke-width="0.8"/>
<rect x="574.28" y="459.81" width="4.74" height="102.20" fill="none" stroke="#201020" stroke-opacity="0.36" stroke-width="0.8"/>
<rect x="579.02" y="493.87" width="4.74" height="68.13" fill="#b07ebb"/>
<rect x="579.02" y="486.30" width="4.74" height="7.57" fill="#bdb9e2"/>
<rect x="579.02" y="493.87" width="4.74" height="68.13" fill="none" stroke="#201020" stroke-opacity="0.36" stroke-width="0.8"/>
<rect x="579.02" y="486.30" width="4.74" height="75.70" fill="none" stroke="#201020" stroke-opacity="0.36" stroke-width="0.8"/>
<rect x="583.76" y="501.44" width="4.74" height="60.56" fill="#b07ebb"/>
<rect x="583.76" y="486.30" width="4.74" height="15.14" fill="#bdb9e2"/>
<rect x="583.76" y="501.44" width="4.74" height="60.56" fill="none" stroke="#201020" stroke-opacity="0.36" stroke-width="0.8"/>
<rect x="583.76" y="486.30" width="4.74" height="75.70" fill="none" stroke="#201020" stroke-opacity="0.36" stroke-width="0.8"/>
<rect x="588.50" y="516.58" width="4.74" height="45.42" fill="#b07ebb"/>
<rect x="588.50" y="516.58" width="4.74" height="45.42" fill="none" stroke="#201020" stroke-opacity="0.36" stroke-width="0.8"/>
<rect x="588.50" y="516.58" width="4.74" height="45.42" fill="none" stroke="#201020" stroke-opacity="0.36" stroke-width="0.8"/>
<rect x="593.24" y="518.47" width="4.74" height="43.53" fill="#b07ebb"/>
<rect x="593.24" y="512.79" width="4.74" height="5.68" fill="#bdb9e2"/>
<rect x="593.24" y="518.47" width="4.74" height="43.53" fill="none" stroke="#201020" stroke-opacity="0.36" stroke-width="0.8"/>
<rect x="593.24" y="512.79" width="4.74" height="49.20" fill="none" stroke="#201020" stroke-opacity="0.36" stroke-width="0.8"/>
<rect x="597.98" y="535.50" width="4.74" height="26.50" fill="#b07ebb"/>
<rect x="597.98" y="531.72" width="4.74" height="3.79" fill="#bdb9e2"/>
<rect x="597.98" y="535.50" width="4.74" height="26.50" fill="none" stroke="#201020" stroke-opacity="0.36" stroke-width="0.8"/>
<rect x="597.98" y="531.72" width="4.74" height="30.28" fill="none" stroke="#201020" stroke-opacity="0.36" stroke-width="0.8"/>
<rect x="602.72" y="546.86" width="4.74" height="15.14" fill="#b07ebb"/>
<rect x="602.72" y="546.86" width="4.74" height="15.14" fill="none" stroke="#201020" stroke-opacity="0.36" stroke-width="0.8"/>
<rect x="602.72" y="546.86" width="4.74" height="15.14" fill="none" stroke="#201020" stroke-opacity="0.36" stroke-width="0.8"/>
<rect x="607.46" y="539.29" width="4.74" height="22.71" fill="#b07ebb"/>
<rect x="607.46" y="535.50" width="4.74" height="3.79" fill="#fcb0b2"/>
<rect x="607.46" y="535.50" width="4.74" height="26.50" fill="none" stroke="#201020" stroke-opacity="0.36" stroke-width="0.8"/>
<rect x="607.46" y="539.29" width="4.74" height="22.71" fill="none" stroke="#201020" stroke-opacity="0.36" stroke-width="0.8"/>
<rect x="612.20" y="550.64" width="4.74" height="11.36" fill="#b07ebb"/>
<rect x="612.20" y="550.64" width="4.74" height="11.36" fill="none" stroke="#201020" stroke-opacity="0.36" stroke-width="0.8"/>
<rect x="612.20" y="550.64" width="4.74" height="11.36" fill="none" stroke="#201020" stroke-opacity="0.36" stroke-width="0.8"/>
<rect x="616.94" y="558.22" width="4.74" height="3.79" fill="#b07ebb"/>
<rect x="616.94" y="554.43" width="4.74" height="3.79" fill="#bdb9e2"/>
<rect x="616.94" y="558.22" width="4.74" height="3.79" fill="none" stroke="#201020" stroke-opacity="0.36" stroke-width="0.8"/>
<rect x="616.94" y="554.43" width="4.74" height="7.57" fill="none" stroke="#201020" stroke-opacity="0.36" stroke-width="0.8"/>
<rect x="621.68" y="554.43" width="4.74" height="7.57" fill="#b07ebb"/>
<rect x="621.68" y="554.43" width="4.74" height="7.57" fill="none" stroke="#201020" stroke-opacity="0.36" stroke-width="0.8"/>
<rect x="621.68" y="554.43" width="4.74" height="7.57" fill="none" stroke="#201020" stroke-opacity="0.36" stroke-width="0.8"/>
<rect x="626.42" y="558.22" width="4.74" height="3.79" fill="#b07ebb"/>
<rect x="626.42" y="550.64" width="4.74" height="7.57" fill="#bdb9e2"/>
<rect x="626.42" y="558.22" width="4.74" height="3.79" fill="none" stroke="#201020" stroke-opacity="0.36" stroke-width="0.8"/>
<rect x="626.42" y="550.64" width="4.74" height="11.36" fill="none" stroke="#201020" stroke-opacity="0.36" stroke-width="0.8"/>
<rect x="631.16" y="550.64" width="4.74" height="11.36" fill="#bdb9e2"/>
<rect x="631.16" y="550.64" width="4.74" height="11.36" fill="none" stroke="#201020" stroke-opacity="0.36" stroke-width="0.8"/>
<rect x="635.90" y="554.43" width="4.74" height="7.57" fill="#bdb9e2"/>
<rect x="635.90" y="554.43" width="4.74" height="7.57" fill="none" stroke="#201020" stroke-opacity="0.36" stroke-width="0.8"/>
<rect x="645.38" y="554.43" width="4.74" height="7.57" fill="#fcb0b2"/>
<rect x="645.38" y="554.43" width="4.74" height="7.57" fill="none" stroke="#201020" stroke-opacity="0.36" stroke-width="0.8"/>
<rect x="650.12" y="554.43" width="4.74" height="7.57" fill="#bdb9e2"/>
<rect x="650.12" y="554.43" width="4.74" height="7.57" fill="none" stroke="#201020" stroke-opacity="0.36" stroke-width="0.8"/>
<line x1="517.4" y1="562.0" x2="714.0" y2="562.0" stroke="#9a90a0" stroke-width="0.8"/>
</g>
<g>
<rect x="746.40" y="559.01" width="6.30" height="3.08" fill="#fcb0b2"/>
<rect x="746.40" y="559.01" width="6.30" height="3.08" fill="none" stroke="#201020" stroke-opacity="0.36" stroke-width="0.8"/>
<rect x="752.70" y="559.01" width="6.30" height="3.08" fill="#bdb9e2"/>
<rect x="752.70" y="559.01" width="6.30" height="3.08" fill="none" stroke="#201020" stroke-opacity="0.36" stroke-width="0.8"/>
<rect x="759.00" y="555.93" width="6.30" height="6.17" fill="#bdb9e2"/>
<rect x="759.00" y="555.93" width="6.30" height="6.17" fill="none" stroke="#201020" stroke-opacity="0.36" stroke-width="0.8"/>
<rect x="771.60" y="559.01" width="6.30" height="3.08" fill="#b07ebb"/>
<rect x="771.60" y="555.93" width="6.30" height="3.08" fill="#fcb0b2"/>
<rect x="771.60" y="555.93" width="6.30" height="6.17" fill="none" stroke="#201020" stroke-opacity="0.36" stroke-width="0.8"/>
<rect x="771.60" y="559.01" width="6.30" height="3.08" fill="none" stroke="#201020" stroke-opacity="0.36" stroke-width="0.8"/>
<rect x="784.20" y="555.93" width="6.30" height="6.17" fill="#fcb0b2"/>
<rect x="784.20" y="555.93" width="6.30" height="6.17" fill="none" stroke="#201020" stroke-opacity="0.36" stroke-width="0.8"/>
<rect x="790.50" y="559.01" width="6.30" height="3.08" fill="#b07ebb"/>
<rect x="790.50" y="559.01" width="6.30" height="3.08" fill="none" stroke="#201020" stroke-opacity="0.36" stroke-width="0.8"/>
<rect x="790.50" y="559.01" width="6.30" height="3.08" fill="none" stroke="#201020" stroke-opacity="0.36" stroke-width="0.8"/>
<rect x="796.80" y="555.93" width="6.30" height="6.17" fill="#bdb9e2"/>
<rect x="796.80" y="555.93" width="6.30" height="6.17" fill="none" stroke="#201020" stroke-opacity="0.36" stroke-width="0.8"/>
<rect x="803.10" y="559.01" width="6.30" height="3.08" fill="#b07ebb"/>
<rect x="803.10" y="555.93" width="6.30" height="3.08" fill="#bdb9e2"/>
<rect x="803.10" y="559.01" width="6.30" height="3.08" fill="none" stroke="#201020" stroke-opacity="0.36" stroke-width="0.8"/>
<rect x="803.10" y="555.93" width="6.30" height="6.17" fill="none" stroke="#201020" stroke-opacity="0.36" stroke-width="0.8"/>
<rect x="809.40" y="559.01" width="6.30" height="3.08" fill="#b07ebb"/>
<rect x="809.40" y="543.59" width="6.30" height="15.43" fill="#fcb0b2"/>
<rect x="809.40" y="543.59" width="6.30" height="18.51" fill="none" stroke="#201020" stroke-opacity="0.36" stroke-width="0.8"/>
<rect x="809.40" y="559.01" width="6.30" height="3.08" fill="none" stroke="#201020" stroke-opacity="0.36" stroke-width="0.8"/>
<rect x="815.70" y="552.85" width="6.30" height="9.25" fill="#b07ebb"/>
<rect x="815.70" y="543.59" width="6.30" height="9.25" fill="#fcb0b2"/>
<rect x="815.70" y="543.59" width="6.30" height="18.51" fill="none" stroke="#201020" stroke-opacity="0.36" stroke-width="0.8"/>
<rect x="815.70" y="552.85" width="6.30" height="9.25" fill="none" stroke="#201020" stroke-opacity="0.36" stroke-width="0.8"/>
<rect x="822.00" y="522.00" width="6.30" height="40.10" fill="#b07ebb"/>
<rect x="822.00" y="515.83" width="6.30" height="6.17" fill="#fcb0b2"/>
<rect x="822.00" y="515.83" width="6.30" height="46.27" fill="none" stroke="#201020" stroke-opacity="0.36" stroke-width="0.8"/>
<rect x="822.00" y="522.00" width="6.30" height="40.10" fill="none" stroke="#201020" stroke-opacity="0.36" stroke-width="0.8"/>
<rect x="828.30" y="518.91" width="6.30" height="43.19" fill="#b07ebb"/>
<rect x="828.30" y="512.74" width="6.30" height="6.17" fill="#bdb9e2"/>
<rect x="828.30" y="518.91" width="6.30" height="43.19" fill="none" stroke="#201020" stroke-opacity="0.36" stroke-width="0.8"/>
<rect x="828.30" y="512.74" width="6.30" height="49.36" fill="none" stroke="#201020" stroke-opacity="0.36" stroke-width="0.8"/>
<rect x="834.60" y="481.89" width="6.30" height="80.21" fill="#b07ebb"/>
<rect x="834.60" y="481.89" width="6.30" height="80.21" fill="none" stroke="#201020" stroke-opacity="0.36" stroke-width="0.8"/>
<rect x="834.60" y="481.89" width="6.30" height="80.21" fill="none" stroke="#201020" stroke-opacity="0.36" stroke-width="0.8"/>
<rect x="840.90" y="509.66" width="6.30" height="52.45" fill="#b07ebb"/>
<rect x="840.90" y="481.89" width="6.30" height="27.77" fill="#fcb0b2"/>
<rect x="840.90" y="481.89" width="6.30" height="80.21" fill="none" stroke="#201020" stroke-opacity="0.36" stroke-width="0.8"/>
<rect x="840.90" y="509.66" width="6.30" height="52.45" fill="none" stroke="#201020" stroke-opacity="0.36" stroke-width="0.8"/>
<rect x="847.20" y="484.98" width="6.30" height="77.12" fill="#b07ebb"/>
<rect x="847.20" y="451.04" width="6.30" height="33.94" fill="#fcb0b2"/>
<rect x="847.20" y="451.04" width="6.30" height="111.06" fill="none" stroke="#201020" stroke-opacity="0.36" stroke-width="0.8"/>
<rect x="847.20" y="484.98" width="6.30" height="77.12" fill="none" stroke="#201020" stroke-opacity="0.36" stroke-width="0.8"/>
<rect x="853.50" y="484.98" width="6.30" height="77.12" fill="#b07ebb"/>
<rect x="853.50" y="469.55" width="6.30" height="15.43" fill="#fcb0b2"/>
<rect x="853.50" y="469.55" width="6.30" height="92.55" fill="none" stroke="#201020" stroke-opacity="0.36" stroke-width="0.8"/>
<rect x="853.50" y="484.98" width="6.30" height="77.12" fill="none" stroke="#201020" stroke-opacity="0.36" stroke-width="0.8"/>
<rect x="859.80" y="454.12" width="6.30" height="107.97" fill="#b07ebb"/>
<rect x="859.80" y="426.36" width="6.30" height="27.77" fill="#bdb9e2"/>
<rect x="859.80" y="454.12" width="6.30" height="107.97" fill="none" stroke="#201020" stroke-opacity="0.36" stroke-width="0.8"/>
<rect x="859.80" y="426.36" width="6.30" height="135.74" fill="none" stroke="#201020" stroke-opacity="0.36" stroke-width="0.8"/>
<rect x="866.10" y="454.12" width="6.30" height="107.97" fill="#b07ebb"/>
<rect x="866.10" y="401.68" width="6.30" height="52.45" fill="#bdb9e2"/>
<rect x="866.10" y="454.12" width="6.30" height="107.97" fill="none" stroke="#201020" stroke-opacity="0.36" stroke-width="0.8"/>
<rect x="866.10" y="401.68" width="6.30" height="160.42" fill="none" stroke="#201020" stroke-opacity="0.36" stroke-width="0.8"/>
<rect x="872.40" y="447.96" width="6.30" height="114.14" fill="#b07ebb"/>
<rect x="872.40" y="426.36" width="6.30" height="21.59" fill="#bdb9e2"/>
<rect x="872.40" y="447.96" width="6.30" height="114.14" fill="none" stroke="#201020" stroke-opacity="0.36" stroke-width="0.8"/>
<rect x="872.40" y="426.36" width="6.30" height="135.74" fill="none" stroke="#201020" stroke-opacity="0.36" stroke-width="0.8"/>
<rect x="878.70" y="469.55" width="6.30" height="92.55" fill="#b07ebb"/>
<rect x="878.70" y="454.12" width="6.30" height="15.43" fill="#fcb0b2"/>
<rect x="878.70" y="454.12" width="6.30" height="107.97" fill="none" stroke="#201020" stroke-opacity="0.36" stroke-width="0.8"/>
<rect x="878.70" y="469.55" width="6.30" height="92.55" fill="none" stroke="#201020" stroke-opacity="0.36" stroke-width="0.8"/>
<rect x="885.00" y="481.89" width="6.30" height="80.21" fill="#b07ebb"/>
<rect x="885.00" y="472.63" width="6.30" height="9.25" fill="#fcb0b2"/>
<rect x="885.00" y="472.63" width="6.30" height="89.47" fill="none" stroke="#201020" stroke-opacity="0.36" stroke-width="0.8"/>
<rect x="885.00" y="481.89" width="6.30" height="80.21" fill="none" stroke="#201020" stroke-opacity="0.36" stroke-width="0.8"/>
<rect x="891.30" y="509.66" width="6.30" height="52.45" fill="#b07ebb"/>
<rect x="891.30" y="500.40" width="6.30" height="9.25" fill="#bdb9e2"/>
<rect x="891.30" y="509.66" width="6.30" height="52.45" fill="none" stroke="#201020" stroke-opacity="0.36" stroke-width="0.8"/>
<rect x="891.30" y="500.40" width="6.30" height="61.70" fill="none" stroke="#201020" stroke-opacity="0.36" stroke-width="0.8"/>
<rect x="897.60" y="549.76" width="6.30" height="12.34" fill="#b07ebb"/>
<rect x="897.60" y="528.16" width="6.30" height="21.59" fill="#bdb9e2"/>
<rect x="897.60" y="549.76" width="6.30" height="12.34" fill="none" stroke="#201020" stroke-opacity="0.36" stroke-width="0.8"/>
<rect x="897.60" y="528.16" width="6.30" height="33.94" fill="none" stroke="#201020" stroke-opacity="0.36" stroke-width="0.8"/>
<rect x="903.90" y="549.76" width="6.30" height="12.34" fill="#b07ebb"/>
<rect x="903.90" y="543.59" width="6.30" height="6.17" fill="#fcb0b2"/>
<rect x="903.90" y="543.59" width="6.30" height="18.51" fill="none" stroke="#201020" stroke-opacity="0.36" stroke-width="0.8"/>
<rect x="903.90" y="549.76" width="6.30" height="12.34" fill="none" stroke="#201020" stroke-opacity="0.36" stroke-width="0.8"/>
<rect x="910.20" y="559.01" width="6.30" height="3.08" fill="#bdb9e2"/>
<rect x="910.20" y="559.01" width="6.30" height="3.08" fill="none" stroke="#201020" stroke-opacity="0.36" stroke-width="0.8"/>
<line x1="739.5" y1="562.1" x2="917.0" y2="562.1" stroke="#9a90a0" stroke-width="0.8"/>
</g>
<!--AXES-->
<line x1="42.4" y1="384.8" x2="42.4" y2="555.4" stroke="#000" stroke-width="1.7" stroke-linecap="butt"/>
<line x1="38.5" y1="554.8" x2="42.4" y2="554.8" stroke="#000" stroke-width="1.3" stroke-linecap="butt"/>
<text x="36.2" y="559.4" font-size="11.4" font-family='"DejaVu Sans","Liberation Sans",sans-serif' fill="#111" textLength="6.6" lengthAdjust="spacingAndGlyphs" text-anchor="end" stroke="#111" stroke-width="0.15">0</text>
<line x1="38.5" y1="530.6" x2="42.4" y2="530.6" stroke="#000" stroke-width="1.3" stroke-linecap="butt"/>
<text x="36.2" y="535.2" font-size="11.4" font-family='"DejaVu Sans","Liberation Sans",sans-serif' fill="#111" textLength="13.2" lengthAdjust="spacingAndGlyphs" text-anchor="end" stroke="#111" stroke-width="0.15">10</text>
<line x1="38.5" y1="506.4" x2="42.4" y2="506.4" stroke="#000" stroke-width="1.3" stroke-linecap="butt"/>
<text x="36.2" y="511.0" font-size="11.4" font-family='"DejaVu Sans","Liberation Sans",sans-serif' fill="#111" textLength="13.2" lengthAdjust="spacingAndGlyphs" text-anchor="end" stroke="#111" stroke-width="0.15">20</text>
<line x1="38.5" y1="482.2" x2="42.4" y2="482.2" stroke="#000" stroke-width="1.3" stroke-linecap="butt"/>
<text x="36.2" y="486.8" font-size="11.4" font-family='"DejaVu Sans","Liberation Sans",sans-serif' fill="#111" textLength="13.2" lengthAdjust="spacingAndGlyphs" text-anchor="end" stroke="#111" stroke-width="0.15">30</text>
<line x1="38.5" y1="458.0" x2="42.4" y2="458.0" stroke="#000" stroke-width="1.3" stroke-linecap="butt"/>
<text x="36.2" y="462.6" font-size="11.4" font-family='"DejaVu Sans","Liberation Sans",sans-serif' fill="#111" textLength="13.2" lengthAdjust="spacingAndGlyphs" text-anchor="end" stroke="#111" stroke-width="0.15">40</text>
<line x1="38.5" y1="433.8" x2="42.4" y2="433.8" stroke="#000" stroke-width="1.3" stroke-linecap="butt"/>
<text x="36.2" y="438.4" font-size="11.4" font-family='"DejaVu Sans","Liberation Sans",sans-serif' fill="#111" textLength="13.2" lengthAdjust="spacingAndGlyphs" text-anchor="end" stroke="#111" stroke-width="0.15">50</text>
<line x1="38.5" y1="409.6" x2="42.4" y2="409.6" stroke="#000" stroke-width="1.3" stroke-linecap="butt"/>
<text x="36.2" y="414.2" font-size="11.4" font-family='"DejaVu Sans","Liberation Sans",sans-serif' fill="#111" textLength="13.2" lengthAdjust="spacingAndGlyphs" text-anchor="end" stroke="#111" stroke-width="0.15">60</text>
<line x1="38.5" y1="385.4" x2="42.4" y2="385.4" stroke="#000" stroke-width="1.3" stroke-linecap="butt"/>
<text x="36.2" y="390.0" font-size="11.4" font-family='"DejaVu Sans","Liberation Sans",sans-serif' fill="#111" textLength="13.2" lengthAdjust="spacingAndGlyphs" text-anchor="end" stroke="#111" stroke-width="0.15">70</text>
<line x1="49.2" y1="561.5" x2="240.6" y2="561.5" stroke="#000" stroke-width="1.7" stroke-linecap="butt"/>
<line x1="49.8" y1="561.5" x2="49.8" y2="565.7" stroke="#000" stroke-width="1.3" stroke-linecap="butt"/>
<text x="50.6" y="579.9" font-size="11.4" font-family='"DejaVu Sans","Liberation Sans",sans-serif' fill="#111" textLength="23.4" lengthAdjust="spacingAndGlyphs" text-anchor="middle" stroke="#111" stroke-width="0.15">0.00</text>
<line x1="97.3" y1="561.5" x2="97.3" y2="565.7" stroke="#000" stroke-width="1.3" stroke-linecap="butt"/>
<text x="98.1" y="579.9" font-size="11.4" font-family='"DejaVu Sans","Liberation Sans",sans-serif' fill="#111" textLength="23.4" lengthAdjust="spacingAndGlyphs" text-anchor="middle" stroke="#111" stroke-width="0.15">0.05</text>
<line x1="144.9" y1="561.5" x2="144.9" y2="565.7" stroke="#000" stroke-width="1.3" stroke-linecap="butt"/>
<text x="145.7" y="579.9" font-size="11.4" font-family='"DejaVu Sans","Liberation Sans",sans-serif' fill="#111" textLength="23.4" lengthAdjust="spacingAndGlyphs" text-anchor="middle" stroke="#111" stroke-width="0.15">0.10</text>
<line x1="192.4" y1="561.5" x2="192.4" y2="565.7" stroke="#000" stroke-width="1.3" stroke-linecap="butt"/>
<text x="193.2" y="579.9" font-size="11.4" font-family='"DejaVu Sans","Liberation Sans",sans-serif' fill="#111" textLength="23.4" lengthAdjust="spacingAndGlyphs" text-anchor="middle" stroke="#111" stroke-width="0.15">0.15</text>
<line x1="240.0" y1="561.5" x2="240.0" y2="565.7" stroke="#000" stroke-width="1.3" stroke-linecap="butt"/>
<text x="240.8" y="579.9" font-size="11.4" font-family='"DejaVu Sans","Liberation Sans",sans-serif' fill="#111" textLength="23.4" lengthAdjust="spacingAndGlyphs" text-anchor="middle" stroke="#111" stroke-width="0.15">0.20</text>
<line x1="275.2" y1="418.3" x2="275.2" y2="555.2" stroke="#000" stroke-width="1.7" stroke-linecap="butt"/>
<line x1="271.3" y1="554.6" x2="275.2" y2="554.6" stroke="#000" stroke-width="1.3" stroke-linecap="butt"/>
<text x="267.8" y="559.2" font-size="11.4" font-family='"DejaVu Sans","Liberation Sans",sans-serif' fill="#111" textLength="6.6" lengthAdjust="spacingAndGlyphs" text-anchor="end" stroke="#111" stroke-width="0.15">0</text>
<line x1="271.3" y1="509.4" x2="275.2" y2="509.4" stroke="#000" stroke-width="1.3" stroke-linecap="butt"/>
<text x="267.8" y="514.0" font-size="11.4" font-family='"DejaVu Sans","Liberation Sans",sans-serif' fill="#111" textLength="13.2" lengthAdjust="spacingAndGlyphs" text-anchor="end" stroke="#111" stroke-width="0.15">20</text>
<line x1="271.3" y1="464.2" x2="275.2" y2="464.2" stroke="#000" stroke-width="1.3" stroke-linecap="butt"/>
<text x="267.8" y="468.8" font-size="11.4" font-family='"DejaVu Sans","Liberation Sans",sans-serif' fill="#111" textLength="13.2" lengthAdjust="spacingAndGlyphs" text-anchor="end" stroke="#111" stroke-width="0.15">40</text>
<line x1="271.3" y1="419.0" x2="275.2" y2="419.0" stroke="#000" stroke-width="1.3" stroke-linecap="butt"/>
<text x="267.8" y="423.6" font-size="11.4" font-family='"DejaVu Sans","Liberation Sans",sans-serif' fill="#111" textLength="13.2" lengthAdjust="spacingAndGlyphs" text-anchor="end" stroke="#111" stroke-width="0.15">60</text>
<line x1="281.9" y1="561.4" x2="455.8" y2="561.4" stroke="#000" stroke-width="1.7" stroke-linecap="butt"/>
<line x1="282.5" y1="561.4" x2="282.5" y2="565.6" stroke="#000" stroke-width="1.3" stroke-linecap="butt"/>
<text x="283.8" y="579.3" font-size="11.4" font-family='"DejaVu Sans","Liberation Sans",sans-serif' fill="#111" textLength="10.2" lengthAdjust="spacingAndGlyphs" text-anchor="middle" stroke="#111" stroke-width="0.15">-6</text>
<line x1="317.0" y1="561.4" x2="317.0" y2="565.6" stroke="#000" stroke-width="1.3" stroke-linecap="butt"/>
<text x="318.3" y="579.3" font-size="11.4" font-family='"DejaVu Sans","Liberation Sans",sans-serif' fill="#111" textLength="10.2" lengthAdjust="spacingAndGlyphs" text-anchor="middle" stroke="#111" stroke-width="0.15">-5</text>
<line x1="351.6" y1="561.4" x2="351.6" y2="565.6" stroke="#000" stroke-width="1.3" stroke-linecap="butt"/>
<text x="352.9" y="579.3" font-size="11.4" font-family='"DejaVu Sans","Liberation Sans",sans-serif' fill="#111" textLength="10.2" lengthAdjust="spacingAndGlyphs" text-anchor="middle" stroke="#111" stroke-width="0.15">-4</text>
<line x1="386.1" y1="561.4" x2="386.1" y2="565.6" stroke="#000" stroke-width="1.3" stroke-linecap="butt"/>
<text x="387.4" y="579.3" font-size="11.4" font-family='"DejaVu Sans","Liberation Sans",sans-serif' fill="#111" textLength="10.2" lengthAdjust="spacingAndGlyphs" text-anchor="middle" stroke="#111" stroke-width="0.15">-3</text>
<line x1="420.7" y1="561.4" x2="420.7" y2="565.6" stroke="#000" stroke-width="1.3" stroke-linecap="butt"/>
<text x="422.0" y="579.3" font-size="11.4" font-family='"DejaVu Sans","Liberation Sans",sans-serif' fill="#111" textLength="10.2" lengthAdjust="spacingAndGlyphs" text-anchor="middle" stroke="#111" stroke-width="0.15">-2</text>
<line x1="455.2" y1="561.4" x2="455.2" y2="565.6" stroke="#000" stroke-width="1.3" stroke-linecap="butt"/>
<text x="456.5" y="579.3" font-size="11.4" font-family='"DejaVu Sans","Liberation Sans",sans-serif' fill="#111" textLength="10.2" lengthAdjust="spacingAndGlyphs" text-anchor="middle" stroke="#111" stroke-width="0.15">-1</text>
<line x1="510.0" y1="409.7" x2="510.0" y2="562.2" stroke="#000" stroke-width="1.7" stroke-linecap="butt"/>
<line x1="505.7" y1="561.6" x2="510.0" y2="561.6" stroke="#000" stroke-width="1.3" stroke-linecap="butt"/>
<text x="501.2" y="566.2" font-size="11.4" font-family='"DejaVu Sans","Liberation Sans",sans-serif' fill="#111" textLength="6.6" lengthAdjust="spacingAndGlyphs" text-anchor="end" stroke="#111" stroke-width="0.15">0</text>
<line x1="505.7" y1="523.8" x2="510.0" y2="523.8" stroke="#000" stroke-width="1.3" stroke-linecap="butt"/>
<text x="501.2" y="528.3" font-size="11.4" font-family='"DejaVu Sans","Liberation Sans",sans-serif' fill="#111" textLength="13.2" lengthAdjust="spacingAndGlyphs" text-anchor="end" stroke="#111" stroke-width="0.15">10</text>
<line x1="505.7" y1="485.9" x2="510.0" y2="485.9" stroke="#000" stroke-width="1.3" stroke-linecap="butt"/>
<text x="501.2" y="490.5" font-size="11.4" font-family='"DejaVu Sans","Liberation Sans",sans-serif' fill="#111" textLength="13.2" lengthAdjust="spacingAndGlyphs" text-anchor="end" stroke="#111" stroke-width="0.15">20</text>
<line x1="505.7" y1="448.1" x2="510.0" y2="448.1" stroke="#000" stroke-width="1.3" stroke-linecap="butt"/>
<text x="501.2" y="452.6" font-size="11.4" font-family='"DejaVu Sans","Liberation Sans",sans-serif' fill="#111" textLength="13.2" lengthAdjust="spacingAndGlyphs" text-anchor="end" stroke="#111" stroke-width="0.15">30</text>
<line x1="505.7" y1="410.2" x2="510.0" y2="410.2" stroke="#000" stroke-width="1.3" stroke-linecap="butt"/>
<text x="501.2" y="414.8" font-size="11.4" font-family='"DejaVu Sans","Liberation Sans",sans-serif' fill="#111" textLength="13.2" lengthAdjust="spacingAndGlyphs" text-anchor="end" stroke="#111" stroke-width="0.15">40</text>
<line x1="516.8" y1="568.4" x2="707.6" y2="568.4" stroke="#000" stroke-width="1.7" stroke-linecap="butt"/>
<line x1="517.4" y1="568.4" x2="517.4" y2="572.6" stroke="#000" stroke-width="1.3" stroke-linecap="butt"/>
<text x="517.4" y="586.2" font-size="11.4" font-family='"DejaVu Sans","Liberation Sans",sans-serif' fill="#111" textLength="23.4" lengthAdjust="spacingAndGlyphs" text-anchor="middle" stroke="#111" stroke-width="0.15">0.00</text>
<line x1="564.8" y1="568.4" x2="564.8" y2="572.6" stroke="#000" stroke-width="1.3" stroke-linecap="butt"/>
<text x="564.8" y="586.2" font-size="11.4" font-family='"DejaVu Sans","Liberation Sans",sans-serif' fill="#111" textLength="23.4" lengthAdjust="spacingAndGlyphs" text-anchor="middle" stroke="#111" stroke-width="0.15">0.05</text>
<line x1="612.2" y1="568.4" x2="612.2" y2="572.6" stroke="#000" stroke-width="1.3" stroke-linecap="butt"/>
<text x="612.2" y="586.2" font-size="11.4" font-family='"DejaVu Sans","Liberation Sans",sans-serif' fill="#111" textLength="23.4" lengthAdjust="spacingAndGlyphs" text-anchor="middle" stroke="#111" stroke-width="0.15">0.10</text>
<line x1="659.6" y1="568.4" x2="659.6" y2="572.6" stroke="#000" stroke-width="1.3" stroke-linecap="butt"/>
<text x="659.6" y="586.2" font-size="11.4" font-family='"DejaVu Sans","Liberation Sans",sans-serif' fill="#111" textLength="23.4" lengthAdjust="spacingAndGlyphs" text-anchor="middle" stroke="#111" stroke-width="0.15">0.15</text>
<line x1="707.0" y1="568.4" x2="707.0" y2="572.6" stroke="#000" stroke-width="1.3" stroke-linecap="butt"/>
<text x="707.0" y="586.2" font-size="11.4" font-family='"DejaVu Sans","Liberation Sans",sans-serif' fill="#111" textLength="23.4" lengthAdjust="spacingAndGlyphs" text-anchor="middle" stroke="#111" stroke-width="0.15">0.20</text>
<line x1="739.0" y1="406.7" x2="739.0" y2="562.0" stroke="#000" stroke-width="1.7" stroke-linecap="butt"/>
<line x1="734.7" y1="561.4" x2="739.0" y2="561.4" stroke="#000" stroke-width="1.3" stroke-linecap="butt"/>
<text x="730.3" y="566.0" font-size="11.4" font-family='"DejaVu Sans","Liberation Sans",sans-serif' fill="#111" textLength="6.6" lengthAdjust="spacingAndGlyphs" text-anchor="end" stroke="#111" stroke-width="0.15">0</text>
<line x1="734.7" y1="530.5" x2="739.0" y2="530.5" stroke="#000" stroke-width="1.3" stroke-linecap="butt"/>
<text x="730.3" y="535.1" font-size="11.4" font-family='"DejaVu Sans","Liberation Sans",sans-serif' fill="#111" textLength="13.2" lengthAdjust="spacingAndGlyphs" text-anchor="end" stroke="#111" stroke-width="0.15">10</text>
<line x1="734.7" y1="499.7" x2="739.0" y2="499.7" stroke="#000" stroke-width="1.3" stroke-linecap="butt"/>
<text x="730.3" y="504.3" font-size="11.4" font-family='"DejaVu Sans","Liberation Sans",sans-serif' fill="#111" textLength="13.2" lengthAdjust="spacingAndGlyphs" text-anchor="end" stroke="#111" stroke-width="0.15">20</text>
<line x1="734.7" y1="468.8" x2="739.0" y2="468.8" stroke="#000" stroke-width="1.3" stroke-linecap="butt"/>
<text x="730.3" y="473.4" font-size="11.4" font-family='"DejaVu Sans","Liberation Sans",sans-serif' fill="#111" textLength="13.2" lengthAdjust="spacingAndGlyphs" text-anchor="end" stroke="#111" stroke-width="0.15">30</text>
<line x1="734.7" y1="438.0" x2="739.0" y2="438.0" stroke="#000" stroke-width="1.3" stroke-linecap="butt"/>
<text x="730.3" y="442.6" font-size="11.4" font-family='"DejaVu Sans","Liberation Sans",sans-serif' fill="#111" textLength="13.2" lengthAdjust="spacingAndGlyphs" text-anchor="end" stroke="#111" stroke-width="0.15">40</text>
<line x1="734.7" y1="407.1" x2="739.0" y2="407.1" stroke="#000" stroke-width="1.3" stroke-linecap="butt"/>
<text x="730.3" y="411.7" font-size="11.4" font-family='"DejaVu Sans","Liberation Sans",sans-serif' fill="#111" textLength="13.2" lengthAdjust="spacingAndGlyphs" text-anchor="end" stroke="#111" stroke-width="0.15">50</text>
<line x1="746.0" y1="568.3" x2="936.2" y2="568.3" stroke="#000" stroke-width="1.7" stroke-linecap="butt"/>
<line x1="746.6" y1="568.3" x2="746.6" y2="572.5" stroke="#000" stroke-width="1.3" stroke-linecap="butt"/>
<text x="746.6" y="585.7" font-size="11.4" font-family='"DejaVu Sans","Liberation Sans",sans-serif' fill="#111" textLength="21.9" lengthAdjust="spacingAndGlyphs" text-anchor="middle" stroke="#111" stroke-width="0.15">-4.0</text>
<line x1="778.1" y1="568.3" x2="778.1" y2="572.5" stroke="#000" stroke-width="1.3" stroke-linecap="butt"/>
<text x="778.1" y="585.7" font-size="11.4" font-family='"DejaVu Sans","Liberation Sans",sans-serif' fill="#111" textLength="21.9" lengthAdjust="spacingAndGlyphs" text-anchor="middle" stroke="#111" stroke-width="0.15">-3.5</text>
<line x1="809.6" y1="568.3" x2="809.6" y2="572.5" stroke="#000" stroke-width="1.3" stroke-linecap="butt"/>
<text x="809.6" y="585.7" font-size="11.4" font-family='"DejaVu Sans","Liberation Sans",sans-serif' fill="#111" textLength="21.9" lengthAdjust="spacingAndGlyphs" text-anchor="middle" stroke="#111" stroke-width="0.15">-3.0</text>
<line x1="841.1" y1="568.3" x2="841.1" y2="572.5" stroke="#000" stroke-width="1.3" stroke-linecap="butt"/>
<text x="841.1" y="585.7" font-size="11.4" font-family='"DejaVu Sans","Liberation Sans",sans-serif' fill="#111" textLength="21.9" lengthAdjust="spacingAndGlyphs" text-anchor="middle" stroke="#111" stroke-width="0.15">-2.5</text>
<line x1="872.6" y1="568.3" x2="872.6" y2="572.5" stroke="#000" stroke-width="1.3" stroke-linecap="butt"/>
<text x="872.6" y="585.7" font-size="11.4" font-family='"DejaVu Sans","Liberation Sans",sans-serif' fill="#111" textLength="21.9" lengthAdjust="spacingAndGlyphs" text-anchor="middle" stroke="#111" stroke-width="0.15">-2.0</text>
<line x1="904.1" y1="568.3" x2="904.1" y2="572.5" stroke="#000" stroke-width="1.3" stroke-linecap="butt"/>
<text x="904.1" y="585.7" font-size="11.4" font-family='"DejaVu Sans","Liberation Sans",sans-serif' fill="#111" textLength="21.9" lengthAdjust="spacingAndGlyphs" text-anchor="middle" stroke="#111" stroke-width="0.15">-1.5</text>
<line x1="935.6" y1="568.3" x2="935.6" y2="572.5" stroke="#000" stroke-width="1.3" stroke-linecap="butt"/>
<text x="935.6" y="585.7" font-size="11.4" font-family='"DejaVu Sans","Liberation Sans",sans-serif' fill="#111" textLength="21.9" lengthAdjust="spacingAndGlyphs" text-anchor="middle" stroke="#111" stroke-width="0.15">-1.0</text>
<text x="140.7" y="354.2" font-size="16.9" font-family='"DejaVu Sans","Liberation Sans",sans-serif' fill="#111" textLength="232.3" lengthAdjust="spacingAndGlyphs" stroke="#111" stroke-width="0.2">After progenitor speciation,</text>
<text x="140.7" y="374.3" font-size="16.9" font-family='"DejaVu Sans","Liberation Sans",sans-serif' fill="#111" textLength="224.9" lengthAdjust="spacingAndGlyphs" stroke="#111" stroke-width="0.2">before allotetraploidization</text>
<text x="563.7" y="363.0" font-size="16.9" font-family='"DejaVu Sans","Liberation Sans",sans-serif' fill="#111" textLength="40.3" lengthAdjust="spacingAndGlyphs" stroke="#111" stroke-width="0.2">After</text>
<text x="609.3" y="363.0" font-size="16.9" font-family='"DejaVu Sans","Liberation Sans",sans-serif' fill="#111" textLength="170.7" lengthAdjust="spacingAndGlyphs" font-style="italic" stroke="#111" stroke-width="0.2">X. laevis-X. borealis</text>
<text x="786.5" y="363.0" font-size="16.9" font-family='"DejaVu Sans","Liberation Sans",sans-serif' fill="#111" textLength="83.5" lengthAdjust="spacingAndGlyphs" stroke="#111" stroke-width="0.2">speciation</text>
<text transform="translate(11.3,470.0) rotate(-90)" font-size="14.7" font-family='"DejaVu Sans","Liberation Sans",sans-serif' fill="#111" stroke="#111" stroke-width="0.2" text-anchor="middle" textLength="75.2" lengthAdjust="spacingAndGlyphs">Frequency</text>
<text transform="translate(249.9,486.8) rotate(-90)" font-size="14.7" font-family='"DejaVu Sans","Liberation Sans",sans-serif' fill="#111" stroke="#111" stroke-width="0.2" text-anchor="middle" textLength="75.2" lengthAdjust="spacingAndGlyphs">Frequency</text>
<text transform="translate(482.4,486.6) rotate(-90)" font-size="14.7" font-family='"DejaVu Sans","Liberation Sans",sans-serif' fill="#111" stroke="#111" stroke-width="0.2" text-anchor="middle" textLength="75.2" lengthAdjust="spacingAndGlyphs">Frequency</text>
<text transform="translate(712.4,485.0) rotate(-90)" font-size="14.7" font-family='"DejaVu Sans","Liberation Sans",sans-serif' fill="#111" stroke="#111" stroke-width="0.2" text-anchor="middle" textLength="75.2" lengthAdjust="spacingAndGlyphs">Frequency</text>
<text x="79.0" y="597.7" font-size="14.7" font-family='"DejaVu Sans","Liberation Sans",sans-serif' fill="#111" textLength="131.0" lengthAdjust="spacingAndGlyphs" stroke="#111" stroke-width="0.2">Epoch-specific Ks</text>
<text x="545.1" y="604.0" font-size="14.7" font-family='"DejaVu Sans","Liberation Sans",sans-serif' fill="#111" textLength="131.3" lengthAdjust="spacingAndGlyphs" stroke="#111" stroke-width="0.2">Epoch-specific Ks</text>
<text x="281.2" y="598.0" font-size="14.5" font-family='"DejaVu Sans","Liberation Sans",sans-serif' fill="#111" textLength="22.8" lengthAdjust="spacingAndGlyphs" stroke="#111" stroke-width="0.2">log</text>
<text x="305.0" y="600.8" font-size="7.6" font-family='"DejaVu Sans","Liberation Sans",sans-serif' fill="#111" textLength="8.5" lengthAdjust="spacingAndGlyphs" stroke="#111" stroke-width="0.3">10</text>
<text x="314.7" y="598.0" font-size="14.5" font-family='"DejaVu Sans","Liberation Sans",sans-serif' fill="#111" textLength="142.3" lengthAdjust="spacingAndGlyphs" stroke="#111" stroke-width="0.2">(Epoch-specific Ka)</text>
<text x="752.0" y="603.2" font-size="14.5" font-family='"DejaVu Sans","Liberation Sans",sans-serif' fill="#111" textLength="23.3" lengthAdjust="spacingAndGlyphs" stroke="#111" stroke-width="0.2">log</text>
<text x="776.3" y="606.0" font-size="7.6" font-family='"DejaVu Sans","Liberation Sans",sans-serif' fill="#111" textLength="8.4" lengthAdjust="spacingAndGlyphs" stroke="#111" stroke-width="0.3">10</text>
<text x="785.9" y="603.2" font-size="14.5" font-family='"DejaVu Sans","Liberation Sans",sans-serif' fill="#111" textLength="142.8" lengthAdjust="spacingAndGlyphs" stroke="#111" stroke-width="0.2">(Epoch-specific Ka)</text>
<text x="140.4" y="414.3" font-size="11.3" font-family='"Liberation Sans","DejaVu Sans",sans-serif' fill="#e8404f" textLength="74.3" lengthAdjust="spacingAndGlyphs" stroke="#e8404f" stroke-width="0.3">L chromosome</text>
<text x="140.4" y="428.2" font-size="11.3" font-family='"Liberation Sans","DejaVu Sans",sans-serif' fill="#5560a8" textLength="76.5" lengthAdjust="spacingAndGlyphs" stroke="#5560a8" stroke-width="0.3">S chromosome</text>
<text x="289.8" y="416.5" font-size="11.3" font-family='"Liberation Sans","DejaVu Sans",sans-serif' fill="#e8404f" textLength="73.0" lengthAdjust="spacingAndGlyphs" stroke="#e8404f" stroke-width="0.3">L chromosome</text>
<text x="289.8" y="429.8" font-size="11.3" font-family='"Liberation Sans","DejaVu Sans",sans-serif' fill="#5560a8" textLength="75.4" lengthAdjust="spacingAndGlyphs" stroke="#5560a8" stroke-width="0.3">S chromosome</text>
<text x="586.6" y="412.3" font-size="11.3" font-family='"Liberation Sans","DejaVu Sans",sans-serif' fill="#e8404f" textLength="73.9" lengthAdjust="spacingAndGlyphs" stroke="#e8404f" stroke-width="0.3">L chromosome</text>
<text x="586.6" y="426.5" font-size="11.3" font-family='"Liberation Sans","DejaVu Sans",sans-serif' fill="#5560a8" textLength="75.2" lengthAdjust="spacingAndGlyphs" stroke="#5560a8" stroke-width="0.3">S chromosome</text>
<text x="746.4" y="415.6" font-size="11.3" font-family='"Liberation Sans","DejaVu Sans",sans-serif' fill="#e8404f" textLength="73.4" lengthAdjust="spacingAndGlyphs" stroke="#e8404f" stroke-width="0.3">L chromosome</text>
<text x="746.4" y="430.5" font-size="11.3" font-family='"Liberation Sans","DejaVu Sans",sans-serif' fill="#5560a8" textLength="75.4" lengthAdjust="spacingAndGlyphs" stroke="#5560a8" stroke-width="0.3">S chromosome</text>
<rect x="14.0" y="664.8" width="360.2" height="46.2" rx="7.5" ry="7.5" fill="none" stroke="#000" stroke-width="2.9"/>
<rect x="14.0" y="712.2" width="360.2" height="45.8" rx="7.5" ry="7.5" fill="none" stroke="#000" stroke-width="2.9"/>
<rect x="14.0" y="759.2" width="360.2" height="47.6" rx="7.5" ry="7.5" fill="none" stroke="#000" stroke-width="2.9"/>
<line x1="126.4" y1="664.8" x2="126.4" y2="806.8" stroke="#000" stroke-width="2.9" stroke-linecap="butt"/>
<line x1="248.1" y1="664.8" x2="248.1" y2="806.8" stroke="#000" stroke-width="2.9" stroke-linecap="butt"/>
<text x="129.0" y="693.7" font-size="18" font-family='"DejaVu Sans","Liberation Sans",sans-serif' fill="#000" textLength="118.4" lengthAdjust="spacingAndGlyphs" stroke="#000" stroke-width="0.2">Homeologues</text>
<text x="273.1" y="693.7" font-size="18" font-family='"DejaVu Sans","Liberation Sans",sans-serif' fill="#000" textLength="92.3" lengthAdjust="spacingAndGlyphs" stroke="#000" stroke-width="0.2">Singletons</text>
<text x="16.1" y="739.9" font-size="18" font-family='"DejaVu Sans","Liberation Sans",sans-serif' fill="#000" textLength="105.3" lengthAdjust="spacingAndGlyphs" stroke="#000" stroke-width="0.2">Ohnologues</text>
<text x="133.6" y="739.9" font-size="18" font-family='"DejaVu Sans","Liberation Sans",sans-serif' fill="#000" textLength="46.5" lengthAdjust="spacingAndGlyphs" stroke="#000" stroke-width="0.2">1,013</text>
<text x="186.5" y="739.9" font-size="14" font-family='"DejaVu Sans","Liberation Sans",sans-serif' fill="#000" textLength="54.9" lengthAdjust="spacingAndGlyphs" stroke="#000" stroke-width="0.2">(79.9%)</text>
<text x="262.6" y="739.9" font-size="18" font-family='"DejaVu Sans","Liberation Sans",sans-serif' fill="#000" textLength="31.8" lengthAdjust="spacingAndGlyphs" stroke="#000" stroke-width="0.2">255</text>
<text x="300.6" y="739.9" font-size="14" font-family='"DejaVu Sans","Liberation Sans",sans-serif' fill="#000" textLength="54.8" lengthAdjust="spacingAndGlyphs" stroke="#000" stroke-width="0.2">(20.1%)</text>
<text x="23.9" y="786.4" font-size="18" font-family='"DejaVu Sans","Liberation Sans",sans-serif' fill="#000" textLength="59.4" lengthAdjust="spacingAndGlyphs" stroke="#000" stroke-width="0.2">Others</text>
<text x="133.6" y="786.4" font-size="18" font-family='"DejaVu Sans","Liberation Sans",sans-serif' fill="#000" textLength="47.8" lengthAdjust="spacingAndGlyphs" stroke="#000" stroke-width="0.2">7,793</text>
<text x="186.5" y="786.4" font-size="14" font-family='"DejaVu Sans","Liberation Sans",sans-serif' fill="#000" textLength="55.4" lengthAdjust="spacingAndGlyphs" stroke="#000" stroke-width="0.2">(54.3%)</text>
<text x="254.1" y="786.4" font-size="18" font-family='"DejaVu Sans","Liberation Sans",sans-serif' fill="#000" textLength="47.3" lengthAdjust="spacingAndGlyphs" stroke="#000" stroke-width="0.2">6,552</text>
<text x="309.1" y="786.4" font-size="14" font-family='"DejaVu Sans","Liberation Sans",sans-serif' fill="#000" textLength="54.7" lengthAdjust="spacingAndGlyphs" stroke="#000" stroke-width="0.2">(35.7%)</text>
<rect x="419.8" y="665.0" width="500.5" height="43.8" rx="6" ry="6" fill="none" stroke="#000" stroke-width="3.3"/>
<rect x="419.8" y="709.6" width="500.5" height="43.8" rx="6" ry="6" fill="none" stroke="#000" stroke-width="3.3"/>
<rect x="419.8" y="754.3" width="500.5" height="42.9" rx="6" ry="6" fill="none" stroke="#000" stroke-width="3.3"/>
<rect x="419.8" y="798.2" width="500.5" height="44.7" rx="6" ry="6" fill="none" stroke="#000" stroke-width="3.3"/>
<line x1="581.4" y1="665.0" x2="581.4" y2="842.9" stroke="#000" stroke-width="3.1" stroke-linecap="butt"/>
<line x1="659.7" y1="665.0" x2="659.7" y2="842.9" stroke="#000" stroke-width="3.1" stroke-linecap="butt"/>
<line x1="737.4" y1="665.0" x2="737.4" y2="842.9" stroke="#000" stroke-width="3.1" stroke-linecap="butt"/>
<line x1="815.3" y1="665.0" x2="815.3" y2="842.9" stroke="#000" stroke-width="3.1" stroke-linecap="butt"/>
<text x="620.3" y="692.8" font-size="14.7" font-family='"DejaVu Sans","Liberation Sans",sans-serif' fill="#000" textLength="29.8" lengthAdjust="spacingAndGlyphs" text-anchor="middle" stroke="#000" stroke-width="0.2">XTR</text>
<text x="698.5" y="692.8" font-size="14.7" font-family='"DejaVu Sans","Liberation Sans",sans-serif' fill="#000" textLength="43.4" lengthAdjust="spacingAndGlyphs" text-anchor="middle" stroke="#000" stroke-width="0.2">XLA.L</text>
<text x="776.4" y="692.8" font-size="14.7" font-family='"DejaVu Sans","Liberation Sans",sans-serif' fill="#000" textLength="44.6" lengthAdjust="spacingAndGlyphs" text-anchor="middle" stroke="#000" stroke-width="0.2">XLA.S</text>
<text x="867.8" y="692.8" font-size="14.7" font-family='"DejaVu Sans","Liberation Sans",sans-serif' fill="#000" textLength="94.6" lengthAdjust="spacingAndGlyphs" text-anchor="middle" stroke="#000" stroke-width="0.2">XLA.L/XLA.S</text>
<text x="620.3" y="732.8" font-size="16.2" font-family='"DejaVu Sans","Liberation Sans",sans-serif' fill="#000" textLength="54.9" lengthAdjust="spacingAndGlyphs" text-anchor="middle" stroke="#000" stroke-width="0.15">0.0602</text>
<text x="620.3" y="744.2" font-size="8.8" font-family='"DejaVu Sans","Liberation Sans",sans-serif' fill="#000" textLength="64.0" lengthAdjust="spacingAndGlyphs" text-anchor="middle" stroke="#000" stroke-width="0.35">(+/- 8.7E-5)</text>
<text x="698.5" y="732.8" font-size="16.2" font-family='"DejaVu Sans","Liberation Sans",sans-serif' fill="#000" textLength="54.9" lengthAdjust="spacingAndGlyphs" text-anchor="middle" stroke="#000" stroke-width="0.15">0.0390</text>
<text x="698.5" y="744.2" font-size="8.8" font-family='"DejaVu Sans","Liberation Sans",sans-serif' fill="#000" textLength="64.0" lengthAdjust="spacingAndGlyphs" text-anchor="middle" stroke="#000" stroke-width="0.35">(+/- 7.0E-5)</text>
<text x="776.4" y="732.8" font-size="16.2" font-family='"DejaVu Sans","Liberation Sans",sans-serif' fill="#000" textLength="54.9" lengthAdjust="spacingAndGlyphs" text-anchor="middle" stroke="#000" stroke-width="0.15">0.0446</text>
<text x="776.4" y="744.2" font-size="8.8" font-family='"DejaVu Sans","Liberation Sans",sans-serif' fill="#000" textLength="64.0" lengthAdjust="spacingAndGlyphs" text-anchor="middle" stroke="#000" stroke-width="0.35">(+/- 7.2E-5)</text>
<text x="867.8" y="732.8" font-size="16.2" font-family='"DejaVu Sans","Liberation Sans",sans-serif' fill="#000" textLength="44.6" lengthAdjust="spacingAndGlyphs" text-anchor="middle" stroke="#000" stroke-width="0.15">0.873</text>
<text x="867.8" y="744.2" font-size="8.8" font-family='"DejaVu Sans","Liberation Sans",sans-serif' fill="#000" textLength="64.0" lengthAdjust="spacingAndGlyphs" text-anchor="middle" stroke="#000" stroke-width="0.35">(+/- 2.0E-3)</text>
<text x="423.7" y="737.7" font-size="15" font-family='"DejaVu Sans","Liberation Sans",sans-serif' fill="#000" textLength="30.0" lengthAdjust="spacingAndGlyphs" stroke="#000" stroke-width="0.2">XTR</text>
<text x="454.4" y="740.7" font-size="7" font-family='"DejaVu Sans","Liberation Sans",sans-serif' fill="#000" textLength="5.1" lengthAdjust="spacingAndGlyphs" stroke="#000" stroke-width="0.3">E</text>
<text x="462.9" y="737.7" font-size="15" font-family='"DejaVu Sans","Liberation Sans",sans-serif' fill="#000" text-anchor="middle" stroke="#000" stroke-width="0.2">:</text>
<text x="466.9" y="737.7" font-size="15" font-family='"DejaVu Sans","Liberation Sans",sans-serif' fill="#000" textLength="43.7" lengthAdjust="spacingAndGlyphs" stroke="#000" stroke-width="0.2">XLA.L</text>
<text x="510.9" y="740.7" font-size="7" font-family='"DejaVu Sans","Liberation Sans",sans-serif' fill="#000" textLength="5.1" lengthAdjust="spacingAndGlyphs" stroke="#000" stroke-width="0.3">E</text>
<text x="519.2" y="737.7" font-size="15" font-family='"DejaVu Sans","Liberation Sans",sans-serif' fill="#000" text-anchor="middle" stroke="#000" stroke-width="0.2">:</text>
<text x="522.7" y="737.7" font-size="15" font-family='"DejaVu Sans","Liberation Sans",sans-serif' fill="#000" textLength="45.2" lengthAdjust="spacingAndGlyphs" stroke="#000" stroke-width="0.2">XLA.S</text>
<text x="569.0" y="740.7" font-size="7" font-family='"DejaVu Sans","Liberation Sans",sans-serif' fill="#000" textLength="4.9" lengthAdjust="spacingAndGlyphs" stroke="#000" stroke-width="0.3">E</text>
<text x="620.3" y="775.9" font-size="16.2" font-family='"DejaVu Sans","Liberation Sans",sans-serif' fill="#000" textLength="54.9" lengthAdjust="spacingAndGlyphs" text-anchor="middle" stroke="#000" stroke-width="0.15">0.0637</text>
<text x="620.3" y="787.3" font-size="8.8" font-family='"DejaVu Sans","Liberation Sans",sans-serif' fill="#000" textLength="64.0" lengthAdjust="spacingAndGlyphs" text-anchor="middle" stroke="#000" stroke-width="0.35">(+/- 3.6E-4)</text>
<text x="698.5" y="775.9" font-size="16.2" font-family='"DejaVu Sans","Liberation Sans",sans-serif' fill="#000" textLength="54.9" lengthAdjust="spacingAndGlyphs" text-anchor="middle" stroke="#000" stroke-width="0.15">0.0379</text>
<text x="698.5" y="787.3" font-size="8.8" font-family='"DejaVu Sans","Liberation Sans",sans-serif' fill="#000" textLength="64.0" lengthAdjust="spacingAndGlyphs" text-anchor="middle" stroke="#000" stroke-width="0.35">(+/- 2.7E-4)</text>
<text x="776.4" y="775.9" font-size="16.2" font-family='"DejaVu Sans","Liberation Sans",sans-serif' fill="#000" textLength="54.9" lengthAdjust="spacingAndGlyphs" text-anchor="middle" stroke="#000" stroke-width="0.15">0.0533</text>
<text x="776.4" y="787.3" font-size="8.8" font-family='"DejaVu Sans","Liberation Sans",sans-serif' fill="#000" textLength="64.0" lengthAdjust="spacingAndGlyphs" text-anchor="middle" stroke="#000" stroke-width="0.35">(+/- 3.3E-4)</text>
<text x="867.8" y="775.9" font-size="16.2" font-family='"DejaVu Sans","Liberation Sans",sans-serif' fill="#000" textLength="44.6" lengthAdjust="spacingAndGlyphs" text-anchor="middle" stroke="#000" stroke-width="0.15">0.713</text>
<text x="867.8" y="787.3" font-size="8.8" font-family='"DejaVu Sans","Liberation Sans",sans-serif' fill="#000" textLength="64.0" lengthAdjust="spacingAndGlyphs" text-anchor="middle" stroke="#000" stroke-width="0.35">(+/- 6.7E-3)</text>
<text x="423.7" y="780.8" font-size="15" font-family='"DejaVu Sans","Liberation Sans",sans-serif' fill="#000" textLength="30.0" lengthAdjust="spacingAndGlyphs" stroke="#000" stroke-width="0.2">XTR</text>
<text x="454.4" y="783.8" font-size="7" font-family='"DejaVu Sans","Liberation Sans",sans-serif' fill="#000" textLength="5.1" lengthAdjust="spacingAndGlyphs" stroke="#000" stroke-width="0.3">E</text>
<text x="462.9" y="780.8" font-size="15" font-family='"DejaVu Sans","Liberation Sans",sans-serif' fill="#000" text-anchor="middle" stroke="#000" stroke-width="0.2">:</text>
<text x="466.9" y="780.8" font-size="15" font-family='"DejaVu Sans","Liberation Sans",sans-serif' fill="#000" textLength="43.7" lengthAdjust="spacingAndGlyphs" stroke="#000" stroke-width="0.2">XLA.L</text>
<text x="510.9" y="783.8" font-size="7" font-family='"DejaVu Sans","Liberation Sans",sans-serif' fill="#000" textLength="5.1" lengthAdjust="spacingAndGlyphs" stroke="#000" stroke-width="0.3">E</text>
<text x="519.2" y="780.8" font-size="15" font-family='"DejaVu Sans","Liberation Sans",sans-serif' fill="#000" text-anchor="middle" stroke="#000" stroke-width="0.2">:</text>
<text x="522.7" y="780.8" font-size="15" font-family='"DejaVu Sans","Liberation Sans",sans-serif' fill="#000" textLength="45.2" lengthAdjust="spacingAndGlyphs" stroke="#000" stroke-width="0.2">XLA.S</text>
<text x="569.0" y="783.8" font-size="7" font-family='"DejaVu Sans","Liberation Sans",sans-serif' fill="#000" textLength="4.9" lengthAdjust="spacingAndGlyphs" stroke="#000" stroke-width="0.3">T</text>
<text x="620.3" y="819.8" font-size="16.2" font-family='"DejaVu Sans","Liberation Sans",sans-serif' fill="#000" textLength="44.6" lengthAdjust="spacingAndGlyphs" text-anchor="middle" stroke="#000" stroke-width="0.15">0.060</text>
<text x="620.3" y="831.2" font-size="8.8" font-family='"DejaVu Sans","Liberation Sans",sans-serif' fill="#000" textLength="64.0" lengthAdjust="spacingAndGlyphs" text-anchor="middle" stroke="#000" stroke-width="0.35">(+/- 5.2E-4)</text>
<text x="698.5" y="819.8" font-size="16.2" font-family='"DejaVu Sans","Liberation Sans",sans-serif' fill="#000" textLength="44.6" lengthAdjust="spacingAndGlyphs" text-anchor="middle" stroke="#000" stroke-width="0.15">0.051</text>
<text x="698.5" y="831.2" font-size="8.8" font-family='"DejaVu Sans","Liberation Sans",sans-serif' fill="#000" textLength="64.0" lengthAdjust="spacingAndGlyphs" text-anchor="middle" stroke="#000" stroke-width="0.35">(+/- 4.6E-4)</text>
<text x="776.4" y="819.8" font-size="16.2" font-family='"DejaVu Sans","Liberation Sans",sans-serif' fill="#000" textLength="44.6" lengthAdjust="spacingAndGlyphs" text-anchor="middle" stroke="#000" stroke-width="0.15">0.041</text>
<text x="776.4" y="831.2" font-size="8.8" font-family='"DejaVu Sans","Liberation Sans",sans-serif' fill="#000" textLength="64.0" lengthAdjust="spacingAndGlyphs" text-anchor="middle" stroke="#000" stroke-width="0.35">(+/- 4.1E-4)</text>
<text x="867.8" y="819.8" font-size="16.2" font-family='"DejaVu Sans","Liberation Sans",sans-serif' fill="#000" textLength="44.6" lengthAdjust="spacingAndGlyphs" text-anchor="middle" stroke="#000" stroke-width="0.15">1.216</text>
<text x="867.8" y="831.2" font-size="8.8" font-family='"DejaVu Sans Condensed","DejaVu Sans","Liberation Sans",sans-serif' fill="#000" textLength="56.6" lengthAdjust="spacingAndGlyphs" text-anchor="middle">(+/- 0.0161)</text>
<text x="423.7" y="823.9" font-size="15" font-family='"DejaVu Sans","Liberation Sans",sans-serif' fill="#000" textLength="30.0" lengthAdjust="spacingAndGlyphs" stroke="#000" stroke-width="0.2">XTR</text>
<text x="454.4" y="826.9" font-size="7" font-family='"DejaVu Sans","Liberation Sans",sans-serif' fill="#000" textLength="5.1" lengthAdjust="spacingAndGlyphs" stroke="#000" stroke-width="0.3">E</text>
<text x="462.9" y="823.9" font-size="15" font-family='"DejaVu Sans","Liberation Sans",sans-serif' fill="#000" text-anchor="middle" stroke="#000" stroke-width="0.2">:</text>
<text x="466.9" y="823.9" font-size="15" font-family='"DejaVu Sans","Liberation Sans",sans-serif' fill="#000" textLength="43.7" lengthAdjust="spacingAndGlyphs" stroke="#000" stroke-width="0.2">XLA.L</text>
<text x="510.9" y="826.9" font-size="7" font-family='"DejaVu Sans","Liberation Sans",sans-serif' fill="#000" textLength="5.1" lengthAdjust="spacingAndGlyphs" stroke="#000" stroke-width="0.3">T</text>
<text x="519.2" y="823.9" font-size="15" font-family='"DejaVu Sans","Liberation Sans",sans-serif' fill="#000" text-anchor="middle" stroke="#000" stroke-width="0.2">:</text>
<text x="522.7" y="823.9" font-size="15" font-family='"DejaVu Sans","Liberation Sans",sans-serif' fill="#000" textLength="45.2" lengthAdjust="spacingAndGlyphs" stroke="#000" stroke-width="0.2">XLA.S</text>
<text x="569.0" y="826.9" font-size="7" font-family='"DejaVu Sans","Liberation Sans",sans-serif' fill="#000" textLength="4.9" lengthAdjust="spacingAndGlyphs" stroke="#000" stroke-width="0.3">E</text>
</svg>
</body></html>
